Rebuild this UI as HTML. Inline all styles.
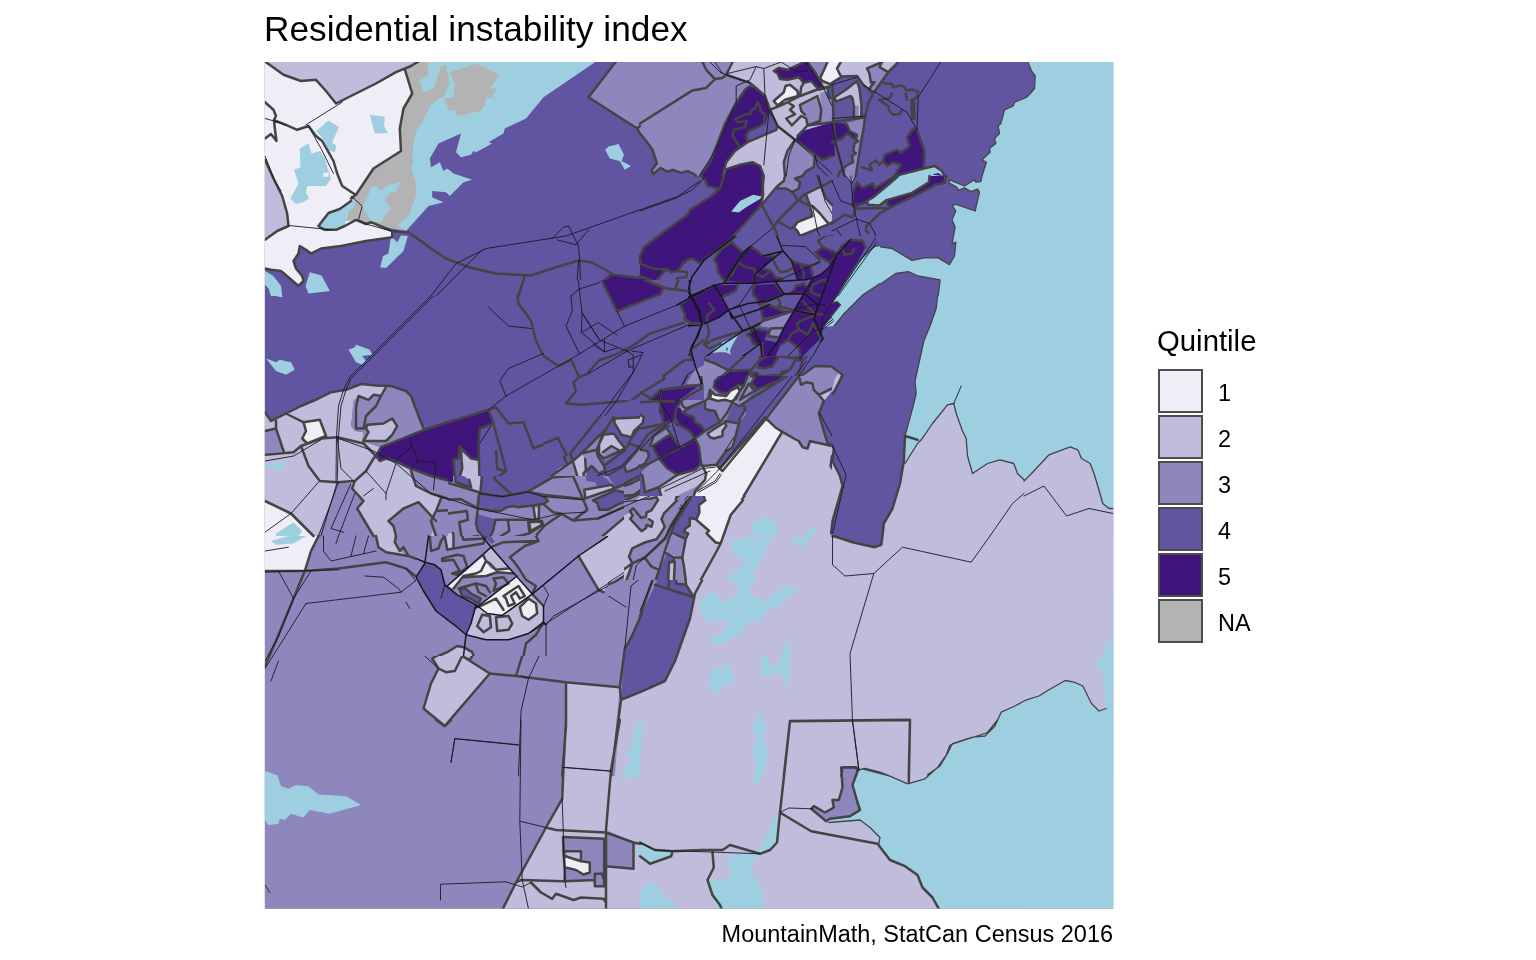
<!DOCTYPE html>
<html><head><meta charset="utf-8"><title>Residential instability index</title>
<style>
html,body{margin:0;padding:0;background:#fff;}
body{width:1536px;height:960px;position:relative;overflow:hidden;font-family:"Liberation Sans",Arial,sans-serif;color:#000;}
#title{position:absolute;left:264px;top:9px;font-size:35.2px;line-height:40px;white-space:nowrap;letter-spacing:0.04px;}
#caption{position:absolute;right:423px;top:921px;font-size:23.47px;line-height:27px;white-space:nowrap;}
#ltitle{position:absolute;left:1157px;top:324px;font-size:29.33px;line-height:34px;white-space:nowrap;}
.k{position:absolute;left:1158px;width:44.75px;height:43.75px;box-sizing:border-box;border:2.5px solid #4d4d4d;}
.kl{position:absolute;left:1218px;font-size:23.47px;line-height:27px;white-space:nowrap;}
#map{position:absolute;left:0;top:0;}
</style></head><body>
<div id="title">Residential instability index</div>
<div id="ltitle">Quintile</div>
<div class="k" style="top:368.75px;background:#efedf5"></div><div class="kl" style="top:380px">1</div>
<div class="k" style="top:414.83px;background:#bfbcdc"></div><div class="kl" style="top:426px">2</div>
<div class="k" style="top:460.91px;background:#8e87be"></div><div class="kl" style="top:472px">3</div>
<div class="k" style="top:506.99px;background:#6155a1"></div><div class="kl" style="top:518px">4</div>
<div class="k" style="top:553.07px;background:#3f157b"></div><div class="kl" style="top:564px">5</div>
<div class="k" style="top:599.15px;background:#b3b3b3"></div><div class="kl" style="top:610px">NA</div>
<div id="caption">MountainMath, StatCan Census 2016</div>
<svg id="map" width="1536" height="960" viewBox="0 0 1536 960">
<defs><clipPath id="c"><rect x="264.9" y="62.0" width="848.3" height="846.6"/></clipPath>
<mask id="ex0" maskUnits="userSpaceOnUse" x="0" y="0" width="1536" height="960"><rect width="1536" height="960" fill="#fff"/><rect x="544" y="416" width="192" height="120" fill="#000"/><rect x="640" y="296" width="192" height="120" fill="#000"/><rect x="640" y="376" width="192" height="120" fill="#000"/><rect x="624" y="500" width="128" height="80" fill="#000"/><rect x="448" y="476" width="176" height="120" fill="#000"/><rect x="688" y="236" width="192" height="120" fill="#000"/><rect x="576" y="280" width="128" height="120" fill="#000"/><rect x="416" y="536" width="192" height="120" fill="#000"/></mask>
<mask id="ex1" maskUnits="userSpaceOnUse" x="0" y="0" width="1536" height="960"><rect width="1536" height="960" fill="#fff"/><rect x="640" y="376" width="192" height="120" fill="#000"/><rect x="624" y="500" width="128" height="80" fill="#000"/><rect x="448" y="476" width="176" height="120" fill="#000"/><rect x="688" y="236" width="192" height="120" fill="#000"/><rect x="576" y="280" width="128" height="120" fill="#000"/><rect x="416" y="536" width="192" height="120" fill="#000"/></mask>
<mask id="ex2" maskUnits="userSpaceOnUse" x="0" y="0" width="1536" height="960"><rect width="1536" height="960" fill="#fff"/><rect x="416" y="536" width="192" height="120" fill="#000"/></mask>
<clipPath id="t0"><rect x="256" y="56" width="384" height="240"/></clipPath>
<clipPath id="t1"><rect x="256" y="296" width="384" height="240"/></clipPath>
<clipPath id="t2"><rect x="256" y="536" width="384" height="240"/></clipPath>
<clipPath id="t3"><rect x="256" y="776" width="384" height="140"/></clipPath>
<clipPath id="t4"><rect x="640" y="56" width="192" height="120"/></clipPath>
<clipPath id="t5"><rect x="832" y="56" width="192" height="120"/></clipPath>
<clipPath id="t6"><rect x="640" y="176" width="192" height="120"/></clipPath>
<clipPath id="t7"><rect x="832" y="176" width="192" height="120"/></clipPath>
<clipPath id="t8"><rect x="640" y="296" width="384" height="240"/></clipPath>
<clipPath id="t9"><rect x="640" y="536" width="384" height="240"/></clipPath>
<clipPath id="t10"><rect x="640" y="776" width="384" height="140"/></clipPath>
<clipPath id="t11"><rect x="1024" y="56" width="96" height="240"/></clipPath>
<clipPath id="t12"><rect x="1024" y="296" width="96" height="240"/></clipPath>
<clipPath id="t13"><rect x="1024" y="536" width="96" height="240"/></clipPath>
<clipPath id="t14"><rect x="1024" y="776" width="96" height="140"/></clipPath>
<clipPath id="t15"><rect x="544" y="416" width="192" height="120"/></clipPath>
<clipPath id="t16"><rect x="640" y="296" width="192" height="120"/></clipPath>
<clipPath id="t17"><rect x="640" y="376" width="192" height="120"/></clipPath>
<clipPath id="t18"><rect x="624" y="500" width="128" height="80"/></clipPath>
<clipPath id="t19"><rect x="448" y="476" width="176" height="120"/></clipPath>
<clipPath id="t20"><rect x="688" y="236" width="192" height="120"/></clipPath>
<clipPath id="t21"><rect x="576" y="280" width="128" height="120"/></clipPath>
<clipPath id="t22"><rect x="880" y="236" width="48" height="120"/></clipPath>
<clipPath id="t23"><rect x="416" y="536" width="192" height="120"/></clipPath>
</defs>
<g clip-path="url(#c)">
<rect x="260" y="58" width="860" height="856" fill="#6155a1"/>
<g clip-path="url(#t0)">
<path fill="#6155a1" d="M256 56L640 56L640 296L256 296Z"/>
<path fill="#efedf5" d="M256 56L421 56L405 69.8L412.2 93.5L403.5 108.5L399.8 128.5L401 151L373.5 168.5L356 194.8L362.2 206L358.5 219.8L366 224L371 222.2L386 228.5L392.2 231L392.2 237.2L366 241L341 246L331 247.2L321 248.5L311 253.5L306 249.8L299.8 246L298.5 253.5L293.5 261L296 268.5L302.2 276L303.5 281L298.5 286L289.8 278.5L281 271L271 269.8L256 268.5Z"/>
<path fill="#bfbcdc" d="M256 56L265 61.5L274.8 68.5L283.5 74.8L301 81L316 79.8L326 91L336 103.5L356 93.5L376 83.5L396 72.2L411 66L418.5 61.5L421 56ZM256 159.8L265 159.8L273.5 178.5L282.2 196L287.2 213.5L288.5 226L277.2 231L265 239.8L256 241Z"/>
<path fill="#b3b3b3" d="M405 67.2L416 61.5L421 56L506 56L501 76L496 93.5L486 106L456 117.2L446 111L441 98.5L431 106L418.5 128.5L412.2 151L411 168.5L417.2 183.5L417.2 196L409.8 216L406 231L391 228.5L371 223.5L366 224L358.5 219.8L346 221L351 198.5L356 194.8L373.5 168.5L401 151L399.8 128.5L403.5 108.5L412.2 93.5Z"/>
<path fill="#9ecfe1" d="M427.2 56L428.5 74.8L419.8 81L423.5 92.2L433.5 88.5L441 66L446 64.8L449.8 83.5L443.5 97.2L441 97.2L431 104.8L421 123.5L416 131L412.2 151L411 168.5L416 183.5L416 196L408.5 216L397.2 224.8L406 231L428.5 206L443.5 202.2L432.2 197.2L432.2 191L446 192.2L449.8 196L463.5 182.2L472.2 179.8L453.5 173.5L447.2 168.5L443.5 171L439.8 162.2L431 167.2L429.8 158.5L438.5 143.5L461 133.5L456 152.2L461 157.2L471 154.8L473.5 151L476 152.2L492.2 143.5L488.5 142.2L503.5 133.5L504.8 128.5L526 118.5L543.5 97.2L596 61.5L601 56Z"/>
<path fill="#b3b3b3" d="M449.8 72.2L476 63.5L499.8 74.8L489.8 88.5L497.2 88.5L492.2 96L496 98.5L486 97.2L484.8 104.8L481 111L457.2 116L454.8 109.8L449.8 111L443.5 98.5L453.5 97.2L454.8 83.5Z"/>
<path fill="#9ecfe1" d="M369.8 187.2L376 186L381 191L388.5 184.8L401 182.2L396 192.2L389.8 192.2L384.8 201L391 208.5L383.5 217.2L382.2 222.2L371 221L362.2 206L368.5 196ZM318.5 223.5L328.5 212.2L341 208.5L351 201L356 198.5L354.8 206L347.2 213.5L344.8 226L336 229.8L324.8 229.8L319.8 227.2ZM316 131L328.5 120.5L339 127.2L332.2 142.2L336.5 146L334.8 152.2L329 150.5L323.5 139.8L320.5 135.5ZM369.8 114.8L384.8 116.8L384 126L387.8 133L374.8 133.5ZM299.8 148.5L308.5 143.5L311.5 153.5L319.8 151L324.8 158.5L328.5 171L331 178.5L326 186L307.2 186L306 192.2L309 198.5L303.5 202.2L296 204L290.5 198.5L298.5 183.5L294 169.8L300.5 167.2Z"/>
<path fill="#efedf5" d="M323 173L328 172.5L329 176.5L323.5 177Z"/>
<path fill="#9ecfe1" d="M391 236L397.2 242.2L401 235.5L407.8 236L403.5 251L386 268L380.2 267.2L383 256L388.5 253.5ZM309.8 272.2L321.5 275.5L329.8 291L308.5 293.5L305.5 286ZM265 271L273.5 276L281 286L282.2 296L271 296L268.5 288.5L265 284.8ZM605.2 149.8L608.5 146.5L618.5 144L624 154.8L621.5 161L631 166L624.8 169.8L619.8 161L609.8 158.5Z"/>
<path fill="#8e87be" d="M616 61.5L588.5 97.2L637.2 128.5L640 133.5L640 56L616 56Z"/>
<path fill="#3f157b" d="M603.5 281L611 274.8L640 278.5L640 296L611 296Z"/>
</g>
<g clip-path="url(#t1)">
<path fill="#6155a1" d="M256 296L640 296L640 536L256 536Z"/>
<path fill="#9ecfe1" d="M266 358.5L276 362.2L279.8 359.8L291 362.2L294.8 369.8L286 374.8L276 371ZM348.5 349.8L354.8 347.2L356 344.8L369.8 349.8L372.2 354.8L362.2 356L366 361L362.2 364.8L356 362.2ZM276 296L283.5 296L281 297.2Z"/>
<path fill="#bfbcdc" d="M256 412.2L265 412.2L271 421L286 413.5L301 406L318.5 398.5L331 392.2L346 389.8L361 384L376 385.5L386 387.2L381 396L373.5 394.8L368.5 399.8L358.5 396L353.5 401L352.2 416L351 426L354.8 431L363.5 432.2L362.2 441L373.5 444.8L381 447.2L376 456L379.8 461L386 458.5L394.8 461L411 468.5L416 486L431 493.5L441 498.5L436 511L431 521L436 536L256 536Z"/>
<path fill="#efedf5" d="M303.5 422.2L319.8 419.8L326 436L307.2 443.5L302.2 438.5L306 431Z"/>
<path fill="#8e87be" d="M256 431L276 428.5L283.5 451L265 453.5L256 454ZM386 387.2L391 386L406 391L411 396L418.5 416L424 429.8L381 447.2L373.5 444.8L362.2 441L363.5 432.2L354.8 431L351 426L352.2 416L353.5 401L358.5 396L368.5 399.8L373.5 394.8L381 396Z"/>
<path fill="#bfbcdc" d="M367.2 424.8L383.5 423.5L392.2 418.5L397.2 426L392.2 434.8L386 441L363.5 441L368.5 432.2L366 428.5Z"/>
<path fill="#3f157b" d="M376 456L381 447.2L424 429.8L488.5 409.8L493.5 423.5L479.8 428.5L478.5 443.5L478.5 459.8L471 458.5L459.8 446L458.5 458.5L453.5 459.8L454.8 482.2L431 476L411 468.5L394.8 461L386 458.5L379.8 461Z"/>
<path fill="#bfbcdc" d="M461 451L469.8 458.5L478.5 461L479.8 491L471 488.5L468.5 481L459.8 476L462.2 468.5Z"/>
<path fill="#efedf5" d="M256 501L265 501L291 513.5L313.5 536L256 536Z"/>
<path fill="#9ecfe1" d="M266 463.5L281 461L286 466L279.8 471L266 468.5ZM276 533.5L293.5 522.2L302.2 531L298.5 536L276 536Z"/>
<path fill="#8e87be" d="M338.5 482.2L351 483.5L354.8 493.5L363.5 501L357.2 508.5L373.5 536L318.5 536L333.5 496ZM388.5 521L403.5 508.5L418.5 502.2L436 521L431 536L396 536L393.5 526ZM394.8 461L411 468.5L431 476L454.8 482.2L471 488.5L479.8 491L478.5 503.5L476 508.5L456 501L431 493.5L416 486L411 471ZM531 492.2L568.5 468.5L586 498.5L588.5 508.5L556 508.5L546 501Z"/>
<path fill="#bfbcdc" d="M568.5 468.5L571 453.5L581 456L583.5 491L611 488.5L616 491L588.5 498.5L586 498.5Z"/>
<path fill="#8e87be" d="M436 511L441 498.5L456 501L476 508.5L476 536L436 536L431 521ZM536 518.5L506 521L496 528.5L491 536L601 536L568.5 521L543.5 511Z"/>
<path fill="#bfbcdc" d="M528.5 521L541 521L531 531Z"/>
<path fill="#8e87be" d="M543.5 511L598.5 516L631 513.5L640 536L601 536L568.5 521Z"/>
<path fill="#3f157b" d="M608.5 296L640 296L640 303.5L616 312.2Z"/>
</g>
<g clip-path="url(#t2)">
<path fill="#8e87be" d="M256 536L640 536L640 776L256 776Z"/>
<path fill="#efedf5" d="M256 536L318.5 536L311 551L304.8 571L265 571L256 571Z"/>
<path fill="#9ecfe1" d="M271 541L288.5 536L306 536L293.5 543.5L276 544.8Z"/>
<path fill="#bfbcdc" d="M376 536L396 536L394.8 542.2L399.8 551L408.5 556L386 552.2L378.5 547.2Z"/>
<path fill="#6155a1" d="M426 562.2L439.8 567.2L443.5 581L453.5 591L476 608.5L471 626L466 634.8L453.5 623.5L436 611L426 593.5L418.5 578.5Z"/>
<path fill="#bfbcdc" d="M448.5 586L491 548.5L531 596L543.5 608.5L543.5 621L531 631L511 638.5L491 639.8L476 636L471 626L476 608.5L453.5 591Z"/>
<path fill="#efedf5" d="M456 583.5L482.2 559.8L487.2 568.5L509.8 573.5L516 586L531 598.5L542.2 608.5L541 618.5L528.5 619.8L516 611L503.5 593.5L491 596L489.8 602.2L478.5 604.8L463.5 594.8Z"/>
<path fill="#6155a1" d="M459.8 588.5L468.5 586L477.2 593.5L478.5 602.2L467.2 598.5ZM493.5 581L504.8 577.2L507.2 586L496 589.8Z"/>
<path fill="#bfbcdc" d="M443.5 536L453.5 536L454.8 548.5L446 549.8Z"/>
<path fill="#6155a1" d="M482.2 536L493.5 536L496 547.2L489.8 546Z"/>
<path fill="#bfbcdc" d="M578.5 556L606 536L640 536L640 558.5L628.5 566L616 581L603.5 586L599.8 589.8ZM432.2 658.5L441 653.5L451 652.2L458.5 644.8L463.5 646L473.5 653.5L469.8 659.8L462.2 656L454.8 671L446 672.2L438.5 668.5ZM462.2 656L489.8 673.5L444.8 726L423.5 708.5L431 683.5L438.5 668.5L446 672.2L454.8 671ZM566 682.2L619.8 687.2L611 776L562.2 776L566 726Z"/>
<path fill="#6155a1" d="M642 613.2L631.2 637.5L624.8 648.5L621 699.8L640 692.2Z"/>
<path fill="#bfbcdc" d="M621 699.8L640 692.2L640 776L614.8 776Z"/>
<path fill="#9ecfe1" d="M640 718.5L633.5 731L631 748.5L626 753.5L631 761L621 771L626 776L640 776ZM256 768.5L265 771L276 774.8L278.5 776L256 776Z"/>
</g>
<g clip-path="url(#t3)">
<path fill="#8e87be" d="M256 776L640 776L640 916L256 916Z"/>
<path fill="#9ecfe1" d="M256 767.5L265 770L277.2 775L281 786.2L288.5 788.8L296 785L308.5 786.2L318.5 794.5L346 796.2L361 805L329.8 813.8L309.8 810L303.5 817.5L291 813.8L284.8 820L279.8 818.8L278.5 823.8L268.5 825L265 820L256 820Z"/>
<path fill="#bfbcdc" d="M566 720L619.8 720L611 770L606 830L606 917.5L498.5 917.5L516 882.5L546 827.5L562.2 798.8L563.5 767.5ZM619.8 720L640 720L640 917.5L606 917.5L606 830L611 770Z"/>
<path fill="#8e87be" d="M563 837L604.2 838.8L604.2 886.2L594.8 886.2L594.8 880L564.8 881.2L564.8 870L563.5 852.5Z"/>
<path fill="#efedf5" d="M565.5 856.2L581 861.2L589.8 862.5L589.8 872.5L583.5 874.5L576 870L565.5 867.5Z"/>
<path fill="#bfbcdc" d="M565.5 851.2L581 851.2L581 858.8L568.5 858.8Z"/>
<path fill="#8e87be" d="M606 830L633.5 842.5L633.5 868.8L606 866.2Z"/>
<path fill="#9ecfe1" d="M640 720L631 727.5L626 745L628.5 755L622.2 772.5L626 778.8L633.5 778.8L640 757.5ZM637.2 845L640 843.8L640 857.5L638 855Z"/>
</g>
<g clip-path="url(#t4)">
<path fill="#8e87be" d="M640 56L832 56L832 176L640 176Z"/>
<path fill="#6155a1" d="M640 133.5L646.2 141L652.5 149.8L656.9 163.5L651.9 169.8L653.1 174.1L660.6 167.9L666.9 171.6L673.1 169.8L681.2 172.9L688.1 171L693.8 174.1L696.2 176L640 176Z"/>
<path fill="#bfbcdc" d="M732.5 56L726.2 74.8L750 82.9L757.5 89.1L765 96L770 109.8L777.5 126L776.2 129.8L747.5 142.2L735 151L726.2 162.2L722.5 176L785 176L783.8 162.2L787.5 151L795 139.8L802.5 131L832 122.2L832 56Z"/>
<path fill="#3f157b" d="M750 86L757.5 89.1L765 96L770 109.8L777.5 126L776.2 129.8L747.5 142.2L735 151L726.2 162.2L722.5 176L700 176L710 162.2L717.5 143.5L725 123.5L735 104.8L745 89.8Z"/>
<path fill="#6155a1" d="M748.8 131L760 126L765 124.8L768.8 112.2L777.5 126L776.2 129.8L747.5 142.2L746.2 136Z"/>
<path fill="#3f157b" d="M726.2 169.1L740 164.8L752.5 162.2L760 166L763.8 176L723.8 176ZM773.8 71L778.8 67.9L787.5 69.8L801.2 63.5L803.8 62L807.5 62L815 72.2L823.8 88.5L818.8 89.8L811.2 81L803.8 82.9L798.8 77.2L787.5 79.8L780 79.1L777.5 73.5Z"/>
<path fill="#8e87be" d="M807.5 62L827.5 62L820 78.5L823.8 88.5L815 72.2Z"/>
<path fill="#efedf5" d="M827.5 62L832 62L832 84.8L822.5 81L820 78.5ZM773.8 101L783.8 92.2L785.6 86L790 84.8L797.5 91L798.1 96L785 99.8L777.5 105.4Z"/>
<path fill="#8e87be" d="M800 104.8L817.5 96L821.2 109.8L820 121L807.5 125.4L805 114.8L801.2 111ZM820 93.5L832 88.5L832 122.2L820.6 124.8L821.2 109.8Z"/>
<path fill="#3f157b" d="M797.5 136L802.5 131L832 122.2L832 156L822.5 159.8L815 154.8L795.6 139.1Z"/>
<path fill="#8e87be" d="M795 139.8L815 154.8L813.8 167.2L806.2 171L802.5 176L785 176L783.8 162.2L787.5 151Z"/>
<path fill="#6155a1" d="M815 154.8L822.5 159.8L832 156L832 176L802.5 176L806.2 171L813.8 167.2ZM827.5 87.2L832 86L832 98.5L828.8 97.2Z"/>
</g>
<g clip-path="url(#t5)">
<path fill="#6155a1" d="M832 56L1024 56L1024 176L832 176Z"/>
<path fill="#efedf5" d="M832 56L840.8 62L837 68.5L840.1 74.8L842 76.6L832 82.9Z"/>
<path fill="#bfbcdc" d="M840.8 56L882 56L882 62L867 68.5L869.5 73.5L870.8 82.2L869.5 88.5L863.2 84.8L857 76L842 76.6L840.1 74.8L837 68.5L840.8 62Z"/>
<path fill="#9ecfe1" d="M845.8 61L857 61L857 62.9L850.8 63.2L845.8 62.9Z"/>
<path fill="#8e87be" d="M867 68.5L882 62L879.5 67.2L888.2 72.2L873.2 93.5L869.5 88.5L874.5 82.2L870.8 82.2L869.5 73.5Z"/>
<path fill="#bfbcdc" d="M882 56L898.2 56L898.2 62L888.2 72.2L879.5 67.2L882 62ZM834.5 97.2L845.8 89.8L857 81L859.5 88.5L861.4 104.8L861.4 117.2L853.9 117.9L853.9 106L852.6 98.5L850.8 96L835.8 101.6Z"/>
<path fill="#8e87be" d="M854.5 105.4L858.9 105.4L858.9 117L854.5 117.5ZM844.5 123.5L865.1 117.9L863.2 131L860.8 143.5L855.8 176L844.5 176L845.8 166L853.2 162.2L852 156L855.8 153.5L853.2 151L854.5 143.5L858.2 141L855.8 139.8L857 134.8L849.5 131L847 124.8Z"/>
<path fill="#3f157b" d="M832 122.2L844.5 123.5L847 124.8L849.5 131L857 134.8L855.8 139.8L847 133.5L842 138.5L834.5 141L832 142.2ZM913.2 128.5L917 129.8L924.5 151L923.9 168.5L899.5 174.8L894.5 176L900.8 164.8L893.2 162.2L887 166L883.2 161L884.5 154.8L897 149.8L900.8 152.9L909.5 146L907 137.2Z"/>
<path fill="#9ecfe1" d="M899.5 174.8L923.9 168.5L934.5 166L942 171L944.5 176L899.5 176Z"/>
<path fill="#3f157b" d="M932 174.8L938.2 172.9L943.2 176Z"/>
<path fill="#9ecfe1" d="M1024 98.5L1014.5 102.2L1013.2 106L1004.5 109.8L1000.8 123.5L998.2 126L999.5 133.5L994.5 138.5L995.8 143.5L989.5 148.5L990.1 152.2L982 159.8L986.4 162.2L982 176L1024 176Z"/>
<path fill="#3f157b" d="M832 122.2L833.9 123.5L834.8 156L832 157.2Z"/>
</g>
<g clip-path="url(#t6)">
<path fill="#6155a1" d="M640 176L832 176L832 296L640 296Z"/>
<path fill="#3f157b" d="M701.2 176L705 179.8L707.5 186L715 187.9L720 188.5L710 197.2L690 209.8L687.5 214.8L665 231L643.8 247.2L640 256L640 263.5L655 269.1L666.2 269.1L671.2 272.2L677.5 271L690 258.5L700 267.2L710 254.8L730 239.8L740 228.5L761.2 204.8L763.1 194.8L762.5 176ZM640 263.5L647.5 266.6L655 269.1L666.2 269.1L656.2 281L640 276ZM640 277.2L656.2 282.2L663.1 288.5L661.2 296L640 296ZM713.8 257.2L722.5 247.2L731.9 241L743.8 252.2L750 246L752.5 249.8L758.8 247.2L760 249.8L756.2 251L756.2 254.8L763.8 256L780 254.8L772.5 261L755 274.8L754.4 282.9L723.8 282.2L716.2 271L716.9 262.2ZM715 284.8L723.8 282.2L754.4 282.9L777.5 282.2L783.8 293.5L781.2 296L720 296ZM788.8 258.5L802.5 263.5L811.2 267.2L813.8 278.5L801.2 279.8L777.5 282.2L781.2 277.2L775 271L779.4 268.5L783.8 263.5ZM815 251L821.2 246L832 251L832 296L807.5 296L812.5 288.5L813.8 278.5L820 262.2L812.5 253.5ZM755 274.8L760 271L765 276L771.2 269.8L777.5 276L781.2 277.2L777.5 282.2L754.4 282.9Z"/>
<path fill="#bfbcdc" d="M763.8 176L785 176L783.8 181L777.5 186L770 194.8L763.1 203.5L761.9 194.8Z"/>
<path fill="#8e87be" d="M785 176L802.5 176L795 178.5L800 182.2L798.8 188.5L792.5 192.2L786.2 188.5L777.5 188.5L783.8 181Z"/>
<path fill="#bfbcdc" d="M806.2 194.8L821.2 187.2L826.2 198.5L832 204.8L832 222.2L827.5 223.5L812.5 206L810 202.2Z"/>
<path fill="#efedf5" d="M793.8 227.2L797.5 222.2L812.5 216L810 206L812.5 206L820 213.5L828.8 224.1L800 236L797.5 231Z"/>
<path fill="#9ecfe1" d="M731.2 211.6L740 201L753.1 194.8L761.9 196.6L760 199.1L746.2 207.2L738.8 212.5Z"/>
</g>
<g clip-path="url(#t7)">
<path fill="#6155a1" d="M832 176L1024 176L1024 296L832 296Z"/>
<path fill="#9ecfe1" d="M982 176L980.8 181.6L975.8 182.2L974.5 179.8L964.5 186L949.5 179.8L948.9 182.9L957 187.2L958.2 190.4L964.5 187.9L970.8 191.6L977.6 189.1L979.5 192.2L975.1 211L955.1 204.1L952.6 206L955.8 211L952 219.8L955.1 227.2L952.6 241L952 244.1L955.8 242.2L954.5 256L949.5 264.8L938.2 257.9L924.5 257.9L912 260.4L892 248.5L875.8 246L864.5 251L855.8 262.2L844.5 279.8L836 296L863.2 296L895.8 273.5L908.2 271.6L918.2 276L940.1 279.8L938.2 296L1024 296L1024 176ZM898.2 176L929.5 176L928.9 182.2L912 192.9L885.8 200.4L879.5 205.4L868.2 204.8L867 201L873.2 197.2L888.2 184.8Z"/>
<path fill="#3f157b" d="M885.8 200.4L912 192.9L928.9 182.2L929.5 176L944.5 176L943.2 182.2L935.8 183.5L924.5 189.8L912 196L889.5 207.2ZM852.6 204.8L853.2 192.2L857 182.2L862 187.9L873.2 183.5L874.5 188.5L894.5 176L898.2 176L888.2 184.8L873.2 197.2L867 201L865.1 202.9L854.5 207.9Z"/>
<path fill="#8e87be" d="M845.8 176L855.8 176L852 183.5Z"/>
<path fill="#3f157b" d="M832 251L839.5 246L850.8 239.8L860.8 241L865.8 251L855.8 262.2L844.5 279.8L836 296L832 296Z"/>
</g>
<g clip-path="url(#t8)">
<path fill="#6155a1" d="M640 296L1024 296L1024 536L640 536Z"/>
<path fill="#9ecfe1" d="M937.5 296L936.2 308.5L930 326L923.8 341L920 358.5L915 381L916.2 393.5L912.5 408.5L905 436L905 463.5L917.5 443.5L921.2 439.8L932.5 423.5L947.5 404.8L953.8 403.5L956.2 413.5L962.5 431L966.2 438.5L967.5 456L972.5 473.5L987.5 463.5L1000 459.8L1013.8 463.5L1017.5 473.5L1024 479.8L1024 296Z"/>
<path fill="#bfbcdc" d="M905 463.5L917.5 443.5L921.2 439.8L932.5 423.5L947.5 404.8L953.8 403.5L956.2 413.5L962.5 431L966.2 438.5L967.5 456L972.5 473.5L987.5 463.5L1000 459.8L1013.8 463.5L1017.5 473.5L1024 479.8L1024 536L882.5 536L883.8 523.5L892.5 508.5L900 483.5L903.8 461Z"/>
<path fill="#9ecfe1" d="M836 296L831.5 303L832.8 305L837 302L840.2 305L831.5 315.5L824 325L825.2 327.5L835.2 326.2L846.5 313L863 296Z"/>
<path fill="#3f157b" d="M825 296L836 296L831.5 303L832.8 305L837 302L840.2 305L831.5 315.5L827.5 321Z"/>
<path fill="#8e87be" d="M800 378.5L805 371L815 367.2L832.5 367.2L840 371L841.2 376L832.5 393.5L825 402.2L818.8 413.5L820 421L827.5 439.8L815 441L810 439.8L805 448.5L797.5 441L790 432.2L781.2 431L767.5 418.5Z"/>
<path fill="#bfbcdc" d="M840 371L841.2 376L826.2 401L818.8 394.8L832.5 388.5L835 378.5Z"/>
<path fill="#efedf5" d="M767.5 418.5L781.2 431L782.5 436L735 511L726.2 536L710 536L708.8 531L700 521L690 518.5L698.8 516L700 508.5L706.2 498.5L703.8 493.5L693.8 491L722.5 468.5Z"/>
<path fill="#bfbcdc" d="M782.5 434.8L790 432.2L797.5 441L805 448.5L810 439.8L815 441L827.5 439.8L833.8 448.5L832.5 461L840 476L842.5 486L837.5 503.5L832.5 521L832.5 536L726.2 536L735 511Z"/>
<path fill="#9ecfe1" d="M750 526L763.8 514.8L767.5 518.5L776.2 519.8L777.5 536L750 536ZM802.5 536L812.5 527.2L817.5 528.5L812.5 536Z"/>
</g>
<g clip-path="url(#t9)">
<path fill="#bfbcdc" d="M640 536L1024 536L1024 776L640 776Z"/>
<path fill="#8e87be" d="M640 536L687.5 536L686.2 546L667.5 553.5L655 584.8L640 616Z"/>
<path fill="#6155a1" d="M667.5 553.5L686.2 546L685 561L686.2 584.8L693.8 597.2L690 618.5L675 661L665 681L640 692.2L640 616L655 584.8Z"/>
<path fill="#8e87be" d="M675 562.2L682.5 561L686.2 584.8L676.2 583.5Z"/>
<path fill="#efedf5" d="M708.8 536L725 536L720 543.5L712.5 541Z"/>
<path fill="#6155a1" d="M832.5 536L882.5 536L881.2 544.8L875 547.2L852.5 542.2L837.5 537.2Z"/>
<path fill="#9ecfe1" d="M730 543.5L772.5 536L765 551L760 563.5L752.5 573.5L756.2 582.2L747.5 588.5L750 594.8L765 601L787.5 584.8L797.5 589.8L790 596L777.5 606L765 611L760 623.5L752.5 618.5L740 633.5L722.5 643.5L715 646L710 638.5L725 631L727.5 618.5L715 622.2L702.5 618.5L698.8 601L715 591L720 601L732.5 598.5L740 586L727.5 578.5L735 568.5L740 553.5L735 548.5ZM792.5 538.5L812.5 536L802.5 547.2L795 544.8ZM712.5 666L720 671L728.8 661L735 681L722.5 686L715 696L708.8 684.8ZM761.2 656L767.5 654.8L768.8 666L780 663.5L783.8 646L790 637.2L790 671L785 692.2L781.2 672.2L761.2 677.2ZM757.5 711L767.5 727.2L762.5 736L768.8 756L762.5 771L763.8 776L755 776L756.2 761L752.5 751L757.5 741L752.5 731ZM640 721L642.5 722.2L641.2 746L640 746ZM1024 701L1015 706L1001.2 712.2L995 726L985 736L972.5 737.2L952.5 743.5L947.5 753.5L940 766L927.5 774.8L905 776L1024 776ZM855 776L858.8 769.8L865 768.5L880 772.2L890 776Z"/>
<path fill="#8e87be" d="M841.2 776L842.5 767.2L856.2 767.2L858.8 769.8L855 776Z"/>
</g>
<g clip-path="url(#t10)">
<path fill="#bfbcdc" d="M640 776L1024 776L1024 916L640 916Z"/>
<path fill="#9ecfe1" d="M997.5 720L987.5 732.5L972.5 737.5L950 745L946.2 755L937.5 767.5L925 778.8L907.5 783.8L890 776.2L862.5 768.8L857.5 771.2L852.5 785L857.5 802.5L860 810L850 816.2L830 818.8L828.8 822.5L860 820L870 827.5L880 837.5L878.8 843.8L890 860L905 866.2L917.5 875L922.5 887.5L932.5 897.5L938.8 908.8L938.8 917.5L1024 917.5L1024 720Z"/>
<path fill="#8e87be" d="M841.2 767.5L856.2 767.5L857.5 771.2L852.5 785L857.5 802.5L860 810L850 816.2L830 818.8L826.2 821.2L811.2 808.8L813.8 806.2L825 812.5L833.8 807.5L832.5 800L838.8 800L842.5 787.5Z"/>
<path fill="#9ecfe1" d="M752.5 727.5L760 720L767.5 727.5L762.5 740L768.8 755L762.5 770L757.5 785L752.5 780L756.2 765L752.5 752.5L757.5 742.5ZM777.5 812.5L777 842.5L770 850L760 853.8L750 866.2L755 880L762.5 890L763.8 917.5L720 917.5L710 890L707.5 880L722.5 880L731.2 876.2L727.5 862.5L732.5 853.8L758.8 852.5L765 837.5ZM640 845L655 850L672.5 851.2L671.2 856.2L650 863.8L640 856.2ZM640 892.5L645 883.8L655 882.5L665 896.2L680 908.8L690 917.5L640 917.5Z"/>
</g>
<g clip-path="url(#t11)">
<path fill="#9ecfe1" d="M1024 56L1120 56L1120 296L1024 296Z"/>
<path fill="#6155a1" d="M1024 56L1027.8 62.2L1031.5 71L1035.2 76L1034.5 88.5L1030.2 93.5L1026.5 97.2L1024 98.5L1021.5 98.5L1021.5 56Z"/>
</g>
<g clip-path="url(#t12)">
<path fill="#9ecfe1" d="M1024 296L1120 296L1120 536L1024 536Z"/>
<path fill="#bfbcdc" d="M1024 481L1031.5 473.5L1049 454.8L1070.2 446.8L1077.8 449.8L1081.5 458.5L1090.2 463.5L1094 473.5L1097.8 486L1102.8 503.5L1109 508.5L1113.2 508.5L1124 508.5L1124 536L1024 536Z"/>
</g>
<g clip-path="url(#t13)">
<path fill="#bfbcdc" d="M1024 536L1120 536L1120 776L1024 776Z"/>
<path fill="#9ecfe1" d="M1113.2 593.5L1110.2 596L1112.8 601L1110.2 608.5L1113.2 616L1112 628.5L1113.2 631L1109 643.5L1100.2 649.8L1106.5 651L1097.8 661L1094 667.2L1101.5 668.5L1104 686L1106 708.5L1099 711L1091.5 703.5L1082.8 686L1074 682.2L1065.2 680.5L1056.5 685.5L1049 689.8L1039 696L1026.5 699.8L1024 701L1024 776L1124 776L1124 593.5Z"/>
</g>
<g clip-path="url(#t14)">
<path fill="#9ecfe1" d="M1024 776L1120 776L1120 916L1024 916Z"/>
</g>
<g clip-path="url(#t15)">
<path fill="#8e87be" d="M544 416L736 416L736 536L544 536Z"/>
<path fill="#6155a1" d="M544 416L600.2 416L570.2 453.5L572.8 461L544 481ZM600.2 416L614 416L606.5 428.5L581.5 453.5L572.8 461L570.2 453.5Z"/>
<path fill="#bfbcdc" d="M573.4 461.6L581.5 453.5L585.2 459.1L585.9 471L583.4 473.5L585.2 482.2L595.2 484.8L606.5 477.2L614 488.5L584 499.1Z"/>
<path fill="#6155a1" d="M586.5 471L591.5 466L599 473.5L604 471L605.2 476L596.5 481L586.5 479.8ZM614 416L650.2 416L634 431L629 443.5L624 451L604 466L597.8 456L596.5 449.8L606.5 428.5Z"/>
<path fill="#bfbcdc" d="M615.2 418.5L642.8 417.2L644 422.2L631.5 437.2L621.5 434.8L617.8 428.5L614 422.2ZM602.8 434.8L614 433.5L619 441L625.2 448.5L604 458.5L599 453.5L599 443.5Z"/>
<path fill="#8e87be" d="M602.8 452.2L611.5 446L620.2 451L605.2 461Z"/>
<path fill="#6155a1" d="M604 466L624 451L629 443.5L640.2 447.2L624 466L606.5 476ZM606.5 476L624 466L626.5 472.2L636.5 468.5L646.5 459.8L650.2 453.5L656.5 458.5L641.5 474.8L614 488.5ZM614 488.5L641.5 474.8L645.2 491L624 501L609 506L599 511L594 501L596.5 497.2Z"/>
<path fill="#8e87be" d="M619 487.2L631.5 483.5L641.5 478.5L642.8 488.5L634 494.8L624 496Z"/>
<path fill="#3f157b" d="M652.8 446L669 436L680.2 447.2L696.5 439.8L700.2 453.5L702.8 466L676.5 474.8L656.5 458.5L655.2 451ZM661.5 416L697.8 416L702.8 432.2L695.2 439.1L680.2 428.5L675.2 421L664 424.8Z"/>
<path fill="#6155a1" d="M650.2 416L661.5 416L664 424.8L652.8 432.2L647.8 437.2L640.2 447.2L629 443.5L634 431ZM664 424.8L675.2 421L680.2 428.5L695.2 439.1L680.2 447.2L669 436L652.8 446L640.2 447.2L647.8 437.2L652.8 432.2ZM697.8 416L736 416L736 418.5L716.5 428.5L702.8 432.2Z"/>
<path fill="#bfbcdc" d="M707.8 434.8L721.5 426L725.2 428.5L719 437.2L711.5 439.8Z"/>
<path fill="#6155a1" d="M736 447.2L736 457.2L722.8 472.2L719 466Z"/>
<path fill="#efedf5" d="M736 457.2L736 536L706.5 536L694 519.8L705.2 501L702.8 492.2L694 491L706.5 474.8L719 471L722.8 472.2Z"/>
<path fill="#bfbcdc" d="M645.2 491L676.5 474.8L702.8 466L706.5 474.8L694 491L681.5 493.5L676.5 497.2L674 506L661.5 514.8L664 536L601.5 536Z"/>
<path fill="#8e87be" d="M639 501L656.5 497.2L659 502.2L649 512.2L651.5 526L639 528.5L631.5 516L629 511ZM681.5 493.5L694 491L681.5 511L669 536L664 536L661.5 514.8L674 506L676.5 497.2Z"/>
<path fill="#6155a1" d="M694 492.2L702.8 492.2L705.2 501L699 506L697.8 516L689 517.2L685.2 528.5L687.8 536L671.5 536L681.5 513.5Z"/>
<path fill="#bfbcdc" d="M694 519.8L706.5 536L687.8 536L685.2 528.5L689 517.2Z"/>
<path fill="#9ecfe1" d="M557.1 469.8L562.1 466.6L562.8 467.9L557.8 471Z"/>
<path fill="#bfbcdc" d="M736 508.5L725.2 536L736 536Z"/>
</g>
<g clip-path="url(#t16)">
<path fill="#6155a1" d="M640 296L832 296L832 416L640 416Z"/>
<path fill="#3f157b" d="M680 305.4L691.2 297.2L696.2 301L700 309.8L701.9 322.2L695 324.1L688.8 322.9L683.8 317.2L683.1 312.2ZM695 296L720 296L722.5 303.5L730 309.8L720 317.2L710 322.2L702.5 322.9L700 309.8L696.2 301ZM756.2 296L780 296L781.2 301L771.2 303.5L760 305.4L757.5 301ZM761.2 307.9L776.2 307.2L780 312.2L765 317.2L762.5 313.5Z"/>
<path fill="#8e87be" d="M765 321L780 314.8L793.8 311L785 327.2L777.5 337.2L767.5 336L770 328.5L765 323.5Z"/>
<path fill="#3f157b" d="M747.5 334.8L753.8 329.1L768.8 329.1L765 336L760 342.2L752.5 342.9L750 337.2ZM760 342.2L765 337.2L777.5 338.5L778.8 343.5L770 354.8L760 359.8L758.8 349.8ZM793.8 311L802.5 306L806.2 296L832 296L832 303.5L823.8 327.2L820 338.5L803.8 354.8L801.2 361L797.5 359.8L787.5 344.8L780 342.2L778.8 338.5L785 327.2Z"/>
<path fill="#6155a1" d="M780 342.2L787.5 337.2L800 351L797.5 359.8L787.5 344.8Z"/>
<path fill="#3f157b" d="M758.8 362.2L770 354.8L778.8 356L772.5 366L765 368.5L757.5 367.2ZM751.2 373.5L756.2 372.2L760 376L781.2 374.8L777.5 381L757.5 389.1L751.2 383.5L755 377.2ZM713.8 382.2L728.8 371L750 369.8L743.8 386L738.8 384.8L732.5 388.5L727.5 393.5L720 392.2L715 388.5Z"/>
<path fill="#8e87be" d="M695 368.5L705 359.8L715 363.5L727.5 369.8L713.8 382.2L701.2 383.5L687.5 383.5L692.5 376Z"/>
<path fill="#3f157b" d="M651.2 399.8L661.2 389.8L700 384.1L701.9 387.9L681.2 399.8L675.6 408.5L676.2 416L658.8 416L660 403.5ZM640 402.2L651.2 399.8L660 403.5L658.8 416L640 416Z"/>
<path fill="#8e87be" d="M701.9 387.9L710 389.1L708.1 397.2L700 399.8L685 407.9L681.2 404.8L681.2 399.8Z"/>
<path fill="#efedf5" d="M711.9 391.6L715 394.8L726.2 396L730 391L737.5 387.2L740 391L736.2 398.5L731.2 401.6L725 399.8L717.5 401L710 398.5Z"/>
<path fill="#8e87be" d="M708.1 397.2L710 398.5L717.5 401L725 399.8L731.2 401.6L727.5 412.2L725 416L705 416L706.2 408.5L705 402.2ZM740 398.5L748.8 383.5L752.5 388.5L755 389.8L740 399.8ZM797.5 378.5L815 366L832 366.6L832 416L772.5 416Z"/>
<path fill="#bfbcdc" d="M820 394.8L832 388.5L832 396L825 402.2Z"/>
<path fill="#9ecfe1" d="M711.2 352.9L720 343.5L737.5 336L732.5 346L730 351L731.9 355.4L727.5 353.5L721.2 351ZM832 314.8L824 325L825.2 327.5L832 326.6Z"/>
<path fill="#3f157b" d="M640 296L658.8 296L640 299.8Z"/>
</g>
<g clip-path="url(#t17)">
<path fill="#8e87be" d="M640 376L832 376L832 496L640 496Z"/>
<path fill="#6155a1" d="M640 376L687.5 376L682.5 378.5L681.2 385.4L661.2 389.8L651.2 398.5L660 400.4L658.8 411L663.8 424.1L647.5 434.8L640 446Z"/>
<path fill="#bfbcdc" d="M640 414.8L643.8 417.2L642.5 423.5L640 424.8Z"/>
<path fill="#6155a1" d="M640 446L647.5 434.8L663.8 424.1L668.8 426L653.8 436L650 446L655 451L658.8 458.5L652.5 462.2L645 468.5L640 473.5Z"/>
<path fill="#8e87be" d="M640 449.8L647.5 451L648.8 456L645 463.5L640 466Z"/>
<path fill="#3f157b" d="M651.2 398.5L661.2 389.8L700 384.8L701.2 388.5L690 394.8L681.2 401L676.2 408.5L675 418.5L672.5 419.8L663.8 424.1L658.8 411L660 400.4ZM676.2 408.5L680 407.2L682.5 412.2L687.5 414.8L693.8 417.2L695 422.2L700 424.8L705 431L695 438.5L690 431L678.8 424.8L675.6 417.2Z"/>
<path fill="#6155a1" d="M663.8 424.1L672.5 419.8L675.6 418.5L678.8 424.8L690 431L695 438.5L680 447.9L671.2 434.8Z"/>
<path fill="#3f157b" d="M652.5 446L667.5 436L671.2 434.8L680 447.9L695 438.5L698.8 446L701.2 463.5L695 469.8L677.5 474.8L667.5 468.5L658.8 458.5L655 451Z"/>
<path fill="#6155a1" d="M682.5 412.2L692.5 406L702.5 401L705 408.5L707.5 409.8L715 411L717.5 417.2L720 422.2L710 428.5L705 431L700 424.8L695 422.2L693.8 417.2L687.5 414.8Z"/>
<path fill="#efedf5" d="M711.9 391.6L715 394.8L726.2 396L730 391L737.5 387.2L740 391L736.2 398.5L731.2 401.6L725 399.8L717.5 401L710 398.5Z"/>
<path fill="#3f157b" d="M713.8 387.2L715 381L720 376L747.5 376L743.8 386L738.8 384.8L732.5 388.5L727.5 393.5L720 392.2L715 388.5ZM751.2 376L783.8 376L777.5 381L757.5 389.1L751.2 383.5L755 377.2Z"/>
<path fill="#6155a1" d="M726.2 419.8L732.5 404.8L738.8 406L743.8 404.8L745 409.8L740 418.5L738.8 423.5L727.5 422.2ZM741.2 404.8L757.5 389.1L777.5 381L787.5 376L798.8 376L765 417.2L722.5 471L716.2 464.8L726.2 451L732.5 447.2L735 438.5L738.8 423.5L746.2 413.5Z"/>
<path fill="#bfbcdc" d="M707.5 433.5L715 428.5L725 422.2L726.2 426L722.5 431L722.5 436L713.8 438.5L710 437.2Z"/>
<path fill="#efedf5" d="M720 468.5L766.2 418.5L781.2 433.5L743.8 496L693.8 496L695 491L705 479.8L706.2 473.5L702.5 466L716.2 464.8Z"/>
<path fill="#bfbcdc" d="M820 394.8L832 388.5L832 396L825 402.2Z"/>
<path fill="#6155a1" d="M823.8 401L832 391L832 446L827.5 443.5L823.8 431L818.8 413.5Z"/>
<path fill="#bfbcdc" d="M781.2 433.5L793.8 438.5L798.8 441L802.5 447.2L807.5 448.5L810 441L815 442.2L832 446L832 496L743.8 496ZM658.8 487.2L677.5 476L695 471L702.5 468.5L706.2 473.5L705 479.8L695 487.2L681.2 493.5L677.5 496L661.2 496Z"/>
<path fill="#6155a1" d="M640 492.2L645 492.2L658.8 487.2L661.2 496L640 496ZM640 473.5L642.5 476L645 492.2L640 492.2Z"/>
</g>
<g clip-path="url(#t18)">
<path fill="#bfbcdc" d="M624 500L752 500L752 580L624 580Z"/>
<path fill="#8e87be" d="M624 500L658.2 500L654.8 505L650.7 510.8L646.5 512.5L646.1 517.1L649 519.2L652.8 521.7L651.5 526.7L646.5 525L646.1 527.9L641.5 531.2L630.2 518.8L632.8 515.4L630.7 511.7L624 515.8ZM675.7 500L690.7 500L674 525L669 538.3L664 551.7L657.3 569.2L654.8 580L626.5 580L629 573.3L632.3 563.3L629 556.7L632.3 548.3L644.8 542.5L656.5 539.2L660.7 533.3L664.8 526.7L661.5 519.2L664 513.3L670.7 506.7Z"/>
<path fill="#6155a1" d="M690.7 500L705.7 500L699 505L699.4 512.5L696.5 519.2L689.8 517.9L689.8 525.8L685.7 528.3L684 531.7L688.2 533.3L685.7 539.2L674 533.3L669 538.3L674 525Z"/>
<path fill="#8e87be" d="M674 533.3L685.7 539.2L682.3 557.5L666.5 553.3L669.4 538.3Z"/>
<path fill="#6155a1" d="M666.5 553.3L674 557.5L673.2 561.7L669 562.5L668.2 580L655.7 580L660.7 566.7Z"/>
<path fill="#8e87be" d="M674 557.5L682.3 557.5L684 566.7L685.7 580L674 580L674.8 561.7Z"/>
<path fill="#efedf5" d="M705.7 500L743.2 500L730.7 515L720.7 543.3L715.7 542.5L710.7 537.5L706.5 533.3L709 530.8L696.5 520L699.4 512.5L699 505Z"/>
<path fill="#9ecfe1" d="M729.8 542.5L740.7 540L752 533.3L752 580L727.3 580L728.2 575L736.5 573.3L744 558.3L736.5 557.5L731.5 546.7Z"/>
<path fill="#bfbcdc" d="M738.2 565L740.7 563.3L742.3 565.8L739.8 567.5ZM746.5 563.3L749 561.7L748.2 566.7L746.1 567.5Z"/>
</g>
<g clip-path="url(#t19)">
<path fill="#8e87be" d="M448 476L624 476L624 596L448 596Z"/>
<path fill="#3f157b" d="M448 476L453 476L453 482.2L448 481.6Z"/>
<path fill="#6155a1" d="M455.5 476L463 476L469.2 479.8L471.1 487.2L455.5 482.2Z"/>
<path fill="#bfbcdc" d="M464.2 476L481.8 476L480.5 492.2L471.8 487.9L469.9 479.8Z"/>
<path fill="#6155a1" d="M481.8 476L573 476L553 477.2L528 491.6L543 494.8L548 501L544.2 503.5L533 505.4L518 507.2L513 506L506.8 507.2L500.5 511L489.2 510.4L479.2 506L475.5 507.9L478 494.8L480.5 492.2ZM476.8 514.1L494.2 519.1L495.5 519.8L492.4 531L490.5 536L494.9 541L491.8 546L478 531L476.1 523.5Z"/>
<path fill="#bfbcdc" d="M529.2 522.2L540.5 521.6L541.8 524.8L530.5 531ZM533.6 508.5L538 507.9L538.6 518.5L535.5 519.1Z"/>
<path fill="#6155a1" d="M585.5 476L601.8 476L608 479.8L611.8 484.8L596.8 486L595.5 482.2L586.8 481Z"/>
<path fill="#bfbcdc" d="M584.2 489.8L611.8 484.8L614.2 488.5L585.5 498.5L583 491Z"/>
<path fill="#6155a1" d="M593 500.4L615.5 490.4L623 492.2L640 486L640 494.8L633 498.5L616.8 504.8L608 509.8L599.2 509.8L597.4 502.9ZM608 476L640 476L640 481L615.5 487.2Z"/>
<path fill="#bfbcdc" d="M579.2 556L629.2 513.5L640 519.8L640 546L631.8 549.8L629.2 556L633 563.5L628 573.5L614.2 582.2L604.2 586L603 591L598 588.5Z"/>
<path fill="#efedf5" d="M448 584.8L483.6 557.9L489.2 562.2L496.8 569.1L506.8 566L533 593.5L530.5 596L448 596Z"/>
<path fill="#bfbcdc" d="M484.2 557.2L490.5 547.9L506.8 566L496.8 569.1L489.2 562.2Z"/>
<path fill="#8e87be" d="M458 588.5L473 582.2L479.2 596L455.5 596ZM491.8 579.8L506.8 578.5L510.5 586L495.5 588.5Z"/>
<path fill="#6155a1" d="M459.2 589.8L469.2 588.5L473 596L460.5 596Z"/>
<path fill="#bfbcdc" d="M448 533.5L453 532.9L455.5 548.5L448 549.8Z"/>
</g>
<g clip-path="url(#t20)">
<path fill="#6155a1" d="M688 236L880 236L880 356L688 356Z"/>
<path fill="#3f157b" d="M688 236L735.5 236L729.2 241L719.2 248.5L706.8 257.2L700.5 263.5L691.8 258.5L688 259.8ZM714.2 259.1L721.8 248.5L731.8 242.2L743 252.9L725.5 281L718 272.2L717.4 265.4ZM743 252.9L750.5 246.6L756.1 249.8L763 256L775.5 256.6L763 268.5L770.5 270.4L775.5 277.2L783 279.1L775.5 281.6L754.2 283.2L725.5 281ZM690.5 297.2L714.2 285.4L738 284.8L735.5 291L721.8 297.2L729.2 309.8L719.2 317.2L708 322.2L701.8 324.8L688 326L688 298.5ZM753 288.5L755.5 284.8L775.5 284.1L784.2 294.1L768 301L759.2 304.8L756.1 297.2L753 294.8ZM760.5 307.9L769.2 304.8L783 311L794.2 310.4L763 318.5ZM791.8 260.4L810.5 266L813.6 277.9L798 280.4ZM813 277.9L820.5 274.8L829.2 267.2L836.8 254.8L830.5 262.9L819.2 256.6L815.5 252.2L823 247.2L838 253.5L841.8 246L850.5 239.8L863 241L865.5 247.2L856.8 263.5L831.8 303.5L836.8 301.6L840.5 304.8L825.5 323.5L823 328.5L820.5 338.5L803 356L768 356L775.5 348.5L778 341L784.2 327.2L794.2 310.4Z"/>
<path fill="#6155a1" d="M780.5 344.8L788 339.8L799.2 348.5L800.5 356L775.5 356Z"/>
<path fill="#3f157b" d="M796.8 285.4L805.5 284.1L806.8 292.2L788 293.5L794.2 289.8ZM746.8 334.8L755.5 328.5L768 331L763 343.5L758 344.8L753 343.5L750.5 337.2ZM761.8 344.8L763 339.8L775.5 342.2L780.5 344.8L775.5 348.5L768 356L763 356Z"/>
<path fill="#8e87be" d="M759.9 323.5L763 321L793 311L784.2 327.2L770.5 327.9L760.5 326ZM770.5 328.5L783 327.9L777.4 337.2L768 336Z"/>
<path fill="#9ecfe1" d="M710.5 352.9L720.5 343.5L738 335.4L731.8 346L729.9 351L731.1 354.8L725.5 352.2L719.2 352.2Z"/>
<path fill="#6155a1" d="M726.1 347.9L728 347.2L727.8 350.4L726.2 350.8Z"/>
<path fill="#9ecfe1" d="M880 245.4L875.5 246L868 252.2L858 262.2L844.2 283.5L831.8 303.5L836.8 301.6L840.5 304.8L825.5 323.5L824.2 327.2L834.2 326L844.2 313.5L863 294.8L880 283.5Z"/>
</g>
<g clip-path="url(#t21)">
<path fill="#6155a1" d="M576 280L704 280L704 400L576 400Z"/>
<path fill="#3f157b" d="M601.4 280L644.5 280L653.2 283.8L663.2 287.5L660.8 293.8L617 311.2L610.8 298.8ZM680.8 305L690.8 298.8L704 292.5L704 323.8L692 323.1L684.5 318.8L685.1 315ZM649.5 400L660.8 390L682 387.5L699.5 385L689.5 392.5L679.5 400Z"/>
<path fill="#8e87be" d="M687 382.5L694.5 370L704 365L704 383.8L699.5 385L687 383.8Z"/>
</g>
<g clip-path="url(#t23)">
<path fill="#8e87be" d="M416 536L608 536L608 656L416 656Z"/>
<path fill="#6155a1" d="M416 577.2L424.8 563.5L434.8 564.8L441 569.8L444.8 584.8L457.2 594.8L476 604.8L471 623.5L466 634.8L457.2 627.2L436 611L423.5 591Z"/>
<path fill="#bfbcdc" d="M444.8 536L453.5 536L453.5 548.5L447.2 549.8ZM476 607.9L487.2 613.5L502.2 615.4L532.2 594.1L543.5 606L543.5 622.2L528.5 633.5L508.5 639.8L486 639.8L466 634.8L471 623.5Z"/>
<path fill="#efedf5" d="M476 607.9L517.2 576L532.2 594.1L502.2 615.4L487.2 613.5ZM448.5 586L483.5 556L486 561L481 571L476 573.5L463.5 576L453.5 588.5Z"/>
<path fill="#bfbcdc" d="M484.8 554.8L491 547.9L508.5 568.5L496 569.8L489.8 563.5L486 561Z"/>
<path fill="#efedf5" d="M481 571L486 562.2L491 568.5L496 570.4L508.5 569.1L513.5 573.5L497.2 572.2L486 576L463.5 577.2L466 574.8L478.5 573.5Z"/>
<path fill="#6155a1" d="M459.8 589.8L464.8 587.9L471 593.5L481 598.5L478.5 603.5L469.8 598.5L462.2 596Z"/>
<path fill="#efedf5" d="M519.8 607.2L528.5 598.5L536 603.5L537.2 613.5L528.5 619.8L522.2 616Z"/>
<path fill="#bfbcdc" d="M578.5 556L608 536L608 583.5L603.5 592.2L598.5 589.8ZM438.5 656L447.2 652.2L457.2 646L463.5 647.2L472.2 652.2L473.5 656Z"/>
<path fill="#6155a1" d="M483.5 536L491 536L494.8 542.2L491 543.5Z"/>
</g>
<g fill="none" stroke-linejoin="round" stroke-linecap="round">
<g mask="url(#ex0)">
<path stroke="#444" stroke-width="2.5" d="M265 61.5L274.8 68.5L283.5 74.8L301 81L316 79.8L326 91L336 103.5L356 93.5L376 83.5L396 72.2L411 66L418.5 61.5M265 102.2L273.5 109.8L276 116L274 119.8L274.8 128.5L276.5 141L271 134L265 138.5M274.8 120.5L286 124.8L297.2 129.8L308.5 126L316 136L322.2 141L328.5 152.2L333.5 161L337.2 173.5L342.2 186L353.5 193.5L356 194.8M405 69.8L412.2 93.5L403.5 108.5L399.8 128.5L401 151L373.5 168.5L356 194.8L351 198.5M265 159.8L273.5 178.5L282.2 196L287.2 213.5L288.5 226L277.2 231L265 239.8M318.5 226L328.5 213L339.8 209L351 201M319.8 227.2L324.8 229.8L336 229.8L344.8 226L356 219.8L366 224L371 222.2L386 228.5L392.2 231L392.2 237.2L366 241L341 246L331 247.2L321 248.5L311 253.5L306 249.8L299.8 246L298.5 253.5L293.5 261L296 268.5L302.2 276L303.5 281L298.5 286L289.8 278.5L281 271L271 269.8L265 268.5M392.2 231L408.5 232.2L431 248.5L446 258.5L468.5 267.2L496 273.5L531 275.5L556 267.2L578.5 260.5L591 262.2L603.5 268.5L613.5 274.8L640 278M524.8 276L518.5 296M616 61.5L588.5 97.2L637.2 128.5L640 133.5M637.2 128.5L640 126M603.5 281L611 274.8M603.5 281L611 296M265 412.2L271 421L286 413.5L301 406L318.5 398.5L331 392.2L346 389.8L361 384L376 385.5L391 386L406 391L411 396L418.5 416L424 429.8M424 429.8L381 447.2L376 456L379.8 461L386 458.5L394.8 461L411 468.5L431 476L454.8 482.2L471 488.5L479.8 491L511 494.8L531 492.2L568.5 468.5M424 429.8L488.5 409.8L493.5 423.5L479.8 428.5L478.5 443.5L479.8 491M488.5 409.8L496 407.2L508.5 423.5L523.5 422.2L533.5 448.5L558.5 438.5L568.5 456L566 461M493.5 423.5L503.5 461L506 471L496 478.5L511 494.8M496 451L497.2 468.5L503.5 471M459.8 446L471 458.5L478.5 459.8M459.8 446L458.5 458.5L453.5 459.8L454.8 482.2M461 451L462.2 468.5L459.8 476L468.5 481L471 488.5M517.2 296L518.5 303.5L531 321L536 341L543.5 356L558.5 366L571 359.8L579.8 377.2L573.5 382.2L576 391L566 403.5L581 404.8L626 401L640 393.5M579.8 377.2L588.5 373.5L598.5 363.5L626 353.5L640 348.5M608.5 296L616 312.2L640 303.5M265 454.8L293.5 452.2L301 446L321 438.5L337.2 437.2L363.5 443.5L376 456M301 446L308.5 466L319.8 481L337.2 482.2L354.8 481L366 471L373.5 458.5L376 456M265 501L291 513.5L313.5 536M354.8 481L352.2 488.5L363.5 501L357.2 508.5L373.5 536M265 431L276 428.5L283.5 451M276 421L276 428.5M286 413.5L301 421L303.5 422.2L319.8 419.8L326 436L307.2 443.5L302.2 438.5L306 431L303.5 422.2M321 438.5L301 446M356 407.2L358.5 396L368.5 399.8L373.5 394.8L381 396L386 387.2L381 396L376 406L366 416L363.5 428.5L356 428.5ZM367.2 424.8L383.5 423.5L392.2 418.5L397.2 426L392.2 434.8L386 441L363.5 441L368.5 432.2L366 428.5L367.2 424.8M411 471L416 486L431 493.5L456 501L476 508.5L506 511L531 506L546 501L556 508.5L588.5 508.5L586 498.5L568.5 468.5M476 508.5L476 536M441 498.5L436 511L431 521L436 536M388.5 521L403.5 508.5L418.5 502.2L436 521M388.5 521L393.5 526L396 536M436 511L476 508.5M531 506L536 518.5L506 521L496 528.5L491 536M546 501L531 492.2M588.5 508.5L598.5 516L640 503.5M265 571L304.8 571L338.5 568.5L386 562.2L406 568.5L418.5 578.5L426 593.5L436 611L453.5 623.5L466 634.8L476 636L491 639.8L511 638.5L531 631L543.5 621L568.5 596L598.5 589.8L640 558.5M318.5 536L311 551L304.8 571L293.5 598.5L276 641L265 666M376 536L378.5 547.2L386 552.2L408.5 556L426 562.2L428.5 536M426 562.2L418.5 578.5M426 562.2L439.8 567.2L443.5 581L453.5 591L476 608.5L471 626L466 634.8L462.2 656M448.5 586L491 548.5L531 596L543.5 608.5L543.5 621M448.5 586L453.5 591M396 536L394.8 542.2L399.8 551L403.5 547.2L408.5 556M476 608.5L491 616L506 613.5L531 596M491 548.5L482.2 536M491 547.2L506 538.5L521 536M538.5 536L536 541L513.5 551L511 561L518.5 568.5L531 586L532.2 596M531 596L578.5 556L606 536M578.5 556L599.8 589.8M640 561L631 556L628.5 566L616 581L603.5 586M543.5 621L538.5 636L526 643.5L516 676M489.8 673.5L516 676L566 682.2L619.8 687.2L624.8 648.5L631.2 637.5L642 613.2M566 682.2L566 726L562.2 776M619.8 687.2L621 699.8L611 776M621 699.8L640 692.2M432.2 658.5L441 653.5L451 652.2L458.5 644.8L463.5 646L473.5 653.5L469.8 659.8L462.2 656L454.8 671L446 672.2L438.5 668.5ZM462.2 656L489.8 673.5L444.8 726L423.5 708.5L431 683.5L438.5 668.5L446 672.2L454.8 671ZM443.5 536L446 549.8L454.8 548.5L453.5 536M439.8 558.5L463.5 556L468.5 568.5L456 577.2L446 571ZM456 583.5L482.2 559.8L487.2 568.5L509.8 573.5M459.8 588.5L468.5 586L477.2 593.5L478.5 602.2L467.2 598.5ZM493.5 581L504.8 577.2L507.2 586L496 589.8ZM506 593.5L516 592.2L521 603.5L531 599.8L536 608.5L528.5 618.5L518.5 616L516 608.5M473.5 618.5L481 611L493.5 616L491 631L481 633.5L476 626ZM496 618.5L506 613.5L513.5 623.5L511 632.2L498.5 633.5ZM458.5 588.5L463.5 594.8L478.5 604.8L489.8 602.2L491 596L503.5 593.5M566 720L563.5 767.5L562.2 798.8L546 827.5L516 882.5L498.5 917.5M619.8 720L611 770L606 830L606 917.5M546 827.5L556 830L606 832.5L633.5 842.5L640 843.8M633.5 842.5L633.5 868.8L606 866.2M563 837L604.2 838.8L604.2 886.2L594.8 886.2L594.8 880L564.8 881.2L564.8 870L563.5 852.5ZM565.5 856.2L581 861.2L589.8 862.5L589.8 872.5L583.5 874.5L576 870L565.5 867.5M565.5 851.2L581 851.2L581 858.8M594.8 880L594.8 873.8L602.2 873.8L603.5 878.8M516 882.5L521 880L563.5 881.2M531 882.5L541 892.5L552.2 898.8L556 893.8L573.5 900L581 897.5L603.5 898.8L606 902.5M436 720L444.8 726.2L451 720M640 133.5L646.2 141L652.5 149.8L656.9 163.5L651.9 169.8L653.1 174.1L660.6 167.9L666.9 171.6L673.1 169.8L681.2 172.9L688.1 171L693.8 174.1L696.2 176M640 123.5L692.5 90.4L706.2 87.9L715 79.1L722.5 77.9L726.2 74.8L732.5 62M702.5 62L706.2 69.8L715 79.1M726.2 74.8L750 82.9L757.5 89.1L765 96L770 109.8L777.5 126L795 139.8L815 154.8L822.5 159.8L832 156M750 86L745 89.8L735 104.8L725 123.5L717.5 143.5L710 162.2L700 176M777.5 126L776.2 129.8L747.5 142.2L735 151L726.2 162.2L722.5 176M740 147.2L732.5 136L733.8 129.8L745 127.2L746.9 121L737.5 122.2L735 119.1L743.8 114.8L750 114.1L751.9 109.8L755 108.5L757.5 102.2L760 106L760.6 111L765 114.8L763.8 123.5L760 126L748.8 131L746.2 136L747.5 142.2M768.8 112.2L770 109.8M726.2 169.1L740 164.8L752.5 162.2L760 166L763.8 176M773.8 71L778.8 67.9L787.5 69.8L801.2 63.5L803.8 62M773.8 71L777.5 73.5L780 79.1L787.5 79.8L798.8 77.2L803.8 82.9L811.2 81L818.8 89.8L823.8 88.5M807.5 62L815 72.2L823.8 88.5L827.5 87.2L828.8 97.2L832 98.5M827.5 62L820 78.5L822.5 81L832 84.8M773.8 101L783.8 92.2L785.6 86L790 84.8L797.5 91L798.1 96L785 99.8L777.5 105.4L773.8 101M800 96L801.2 87.2L803.8 82.9M770 109.8L785 103.5L800 96L820 88.5L832 86M787.5 102.2L793.8 106L790 109.8L795 114.1L786.2 118.5L791.9 125.4L796.2 121L801.2 116L806.2 118.5L807.5 125.4L820 121L821.2 109.8L817.5 96L800 104.8L801.2 111L805 114.8M807.5 125.4L832 122.2M797.5 136L802.5 131L807.5 125.4M795 139.8L787.5 151L783.8 162.2L785 176M815 154.8L813.8 167.2L806.2 171L802.5 176M840.8 62L837 68.5L840.1 74.8L842 76.6M832 82.9L842 76.6L857 76L863.2 84.8L873.2 93.5L868.2 103.5L865.1 117.2L863.2 131L860.8 143.5L855.8 176M898.2 62L888.2 72.2L873.2 93.5M882 62L879.5 67.2L888.2 72.2M882 62L867 68.5L869.5 73.5L870.8 82.2L874.5 82.2L869.5 88.5M834.5 97.2L845.8 89.8L857 81L859.5 88.5L861.4 104.8L861.4 117.2L853.9 117.9L853.9 106L852.6 98.5L850.8 96L835.8 101.6ZM832 122.2L865.1 117.2M883.9 82.9L892 84.1L893.2 87.2L900.1 85.4L904.5 87.2L906.4 90.4L912 89.5L918.2 91.6L917 97.2L913.9 99.1L914.5 118.5M907 99.8L905.8 93.5M911.4 99.8L912 119.1M892 93.5L889.5 98.5L878.9 99.8L888.2 106L889.5 111L893.2 114.8L899.5 114.1L902 110.4M913.2 128.5L907 137.2L909.5 146L900.8 152.9L897 149.8L884.5 154.8L883.2 161L887 166L893.2 162.2L900.8 164.8L894.5 176M883.2 161L879.5 164.8L875.8 160.4L869.5 164.8L872 170.4L862 167.2M844.5 123.5L847 124.8L849.5 131L857 134.8L855.8 139.8L847 133.5L842 138.5L834.5 141L832 142.2M855.8 139.8L858.2 141L854.5 143.5L853.2 151L855.8 153.5L852 156L853.2 162.2L845.8 166L839.5 172.2L838.2 176M913.2 128.5L917 129.8L924.5 151L923.9 168.5M899.5 174.8L923.9 168.5L934.5 166L942 171L944.5 176M832 82.9L832.5 84.8L833.5 122.2L835.8 143.5L844.5 176M701.2 176L705 179.8L707.5 186L715 187.9L720 188.5L723.8 176M720 188.5L710 197.2L690 209.8L687.5 214.8L665 231L643.8 247.2L640 256L640 263.5L647.5 266.6L655 269.1L666.2 269.1L671.2 272.2L677.5 271L683.8 262.2L690 258.5L700 267.2M762.5 176L763.1 194.8L761.2 204.8L740 228.5L730 239.8L710 254.8L700 267.2L690 284.8L688.8 291L690 296M666.2 269.1L656.2 281M640 276L656.2 282.2L688.8 291M656.2 282.2L663.1 288.5L661.2 296M677.5 271L687.5 272.2L686.2 277.2L677.5 277.9L675 287.2M688.8 291L715 284.8L723.8 282.2L754.4 282.9L777.5 282.2L801.2 279.8L812.5 278.5L832 274.8M697.5 274.8L706.2 276L712.5 282.2L715 284.8L720 296M731.9 241L743.8 252.2L750 246L757.5 246L760 248.5L756.2 251L756.2 254.8L763.8 256L780 254.8M713.8 257.2L722.5 247.2L731.9 241M713.8 257.2L716.9 262.2L716.2 271L723.8 282.2M737.5 261L743.8 264.8L750 262.2L752.5 256L756.2 254.8M743.8 264.8L742.5 276L733.8 278.5L732.5 282.2M746.2 268.5L755 269.1L755 274.8L754.4 282.9L753.8 288.5L757.5 291L756.9 296M760 271L765 276L771.2 269.8L777.5 276L782.5 278.5M772.5 261L777.5 263.5L779.4 268.5L775 271L781.2 277.2L777.5 282.2L783.8 293.5L781.2 296M780 254.8L788.8 258.5L802.5 263.5L811.2 267.2L820 262.2L812.5 253.5L817.5 248.5L815 243.5L820 239.8L825 248.5L832 246M802.5 263.5L800 271L801.2 279.8M811.2 267.2L813.8 278.5L812.5 288.5L807.5 296M777.5 283.5L795 284.8L792.5 292.2L783.8 293.5M761.9 205.4L773.8 227.2L782.5 246L788.8 258.5L798.8 279.8L802.5 296M832 181L803.8 194.8L777.5 221L773.8 227.2M777.5 221L790 228.5L793.8 227.2L797.5 222.2L812.5 216L810 206L806.2 194.8M793.8 227.2L797.5 231L800 236L828.8 224.1L832 222.2M788.8 241L800 236M832 236L802.5 241L782.5 246L780 254.8L755 274.8M763.8 176L761.9 194.8M785 176L783.8 181L777.5 186L770 194.8L763.1 203.5M777.5 188.5L786.2 188.5L792.5 192.2L798.8 188.5L800 182.2L795 178.5L802.5 176M792.5 192.2L797.5 199.8L807.5 204.8L810 206M812.5 206L820 213.5L828.8 224.1M817.5 176L821.2 187.2L826.2 198.5L832 204.8M898.2 176L888.2 184.8L873.2 197.2L867 201L868.2 204.8L879.5 205.4L885.8 200.4L912 192.9L928.9 182.2L929.5 176M885.8 200.4L889.5 207.2M852.6 206L865.1 202.9L867 201M889.5 207.9L913.2 196.6L935.8 184.8L944.5 182.9L946.4 176M889.5 207.9L879.5 213.5L870.8 222.2L866.4 226L865.8 231L868.9 232.9M832 223.5L844.5 214.8L852.6 217.2L855.8 208.5L889.5 207.9M857 182.2L862 187.9L873.2 183.5L874.5 188.5L894.5 176M857 182.2L853.2 192.2L852.6 204.8M832 246L839.5 241L850.8 239.1L860.8 241L865.8 249.8M839.5 251L850.8 247.2L852 252.9L844.5 256L839.5 261L844.5 263.5M905 436L903.8 461L900 483.5L892.5 508.5L883.8 523.5L882.5 536M905 436L917.5 439.8M800 378.5L805 371L815 367.2L832.5 367.2L842.5 374.8L835 391L825 401L818.8 413.5L820 421L827.5 439.8L833.8 448.5L832.5 461L840 476L842.5 486L837.5 503.5L832.5 521L831.2 533.5M800 378.5L802.5 384.8L810 382.2L815 393.5L825 402.2M767.5 418.5L781.2 431L790 432.2L797.5 441L805 448.5L810 439.8L815 441L827.5 439.8M782.5 434.8L735 511L725 536M693.8 491L703.8 493.5L706.2 498.5L700 508.5L698.8 516L690 518.5L700 521L708.8 531L710 536M667.5 536L640 616M725 538.5L712.5 561L695 593.5L690 618.5L675 661L665 681L640 692.2M655 584.8L693.8 597.2M667.5 553.5L686.2 546L687.5 536M686.2 546L685 561L675 562.2L676.2 583.5L686.2 584.8L682.5 561M686.2 584.8L693.8 597.2M670 561L668.8 588.5M647.5 558.5L655 566L665 551M832.5 536L837.5 537.2L852.5 542.2L875 547.2L881.2 544.8L882.5 536M790 721L910 719.8L908.8 776M790 721L783.8 776M841.2 776L842.5 767.2L856.2 767.2L858.8 769.8M708.8 536L712.5 541L720 543.5M790 721.2L910 720L908.8 782.5M790 721.2L780 812.5L811.2 831.2L877.5 843.8M780 812.5L777 842.5L770 850L760 853.8L730 845L722.5 850L702.5 850L672.5 851.2L655 850L640 842.5M672.5 851.2L671.2 856.2L650 863.8L640 856.2M712.5 852.5L713.8 867.5L707.5 880L712.5 895L720 905L725 917.5M841.2 767.5L856.2 767.5L857.5 771.2L852.5 785L857.5 802.5L860 810L850 816.2L830 818.8L826.2 821.2L811.2 808.8L813.8 806.2L825 812.5L833.8 807.5L832.5 800L838.8 800L842.5 787.5ZM877.5 843.8L890 860L905 866.2L917.5 875L922.5 887.5L932.5 897.5L938.8 908.8L940 917.5"/>
<path stroke="#444" stroke-width="1.3" d="M1024 98.5L1014.5 102.2L1013.2 106L1004.5 109.8L1000.8 123.5L998.2 126L999.5 133.5L994.5 138.5L995.8 143.5L989.5 148.5L990.1 152.2L982 159.8L986.4 162.2L982 176M982 176L980.8 181.6L975.8 182.2L974.5 179.8L964.5 186L949.5 179.8L948.9 182.9L957 187.2L958.2 190.4L964.5 187.9L970.8 191.6L977.6 189.1L979.5 192.2L975.1 211L955.1 204.1L952.6 206L955.8 211L952 219.8L955.1 227.2L952.6 241L952 244.1L955.8 242.2L954.5 256L949.5 264.8L938.2 257.9L924.5 257.9L912 260.4L892 248.5L875.8 246M863.2 296L895.8 273.5L908.2 271.6L918.2 276L940.1 279.8L938.2 296M937.5 296L936.2 308.5L930 326L923.8 341L920 358.5L915 381L916.2 393.5L912.5 408.5L905 436M905 463.5L917.5 443.5L921.2 439.8L932.5 423.5L947.5 404.8L953.8 403.5L956.2 413.5L962.5 431L966.2 438.5L967.5 456L972.5 473.5L987.5 463.5L1000 459.8L1013.8 463.5L1017.5 473.5L1024 479.8M836 296L831.5 303L832.8 305L837 302L840.2 305L831.5 315.5L824 325L825.2 327.5M863 296L846.5 313L835.2 326.2L825.2 327.5M1024 701L1015 706L1001.2 712.2L995 726L985 736L972.5 737.2L952.5 743.5L947.5 753.5L940 766L927.5 774.8M858.8 769.8L865 768.5L880 772.2L890 776M997.5 720L987.5 732.5L972.5 737.5L950 745L946.2 755L937.5 767.5L925 778.8L907.5 783.8L890 776.2L862.5 768.8M828.8 822.5L860 820L870 827.5L880 837.5L878.8 843.8M1027.8 61.5L1031.5 71L1035.2 76L1034.5 88.5L1030.2 93.5L1026.5 97.2L1024 98.5M1024 481L1031.5 473.5L1049 454.8L1070.2 446.8L1077.8 449.8L1081.5 458.5L1090.2 463.5L1094 473.5L1097.8 486L1102.8 503.5L1109 508.5L1113.2 508.5M1106 708.5L1099 711L1091.5 703.5L1082.8 686L1074 682.2L1065.2 680.5L1056.5 685.5L1049 689.8L1039 696L1026.5 699.8L1024 701"/>
<path stroke="#1a1a24" stroke-width="0.9" d="M342.2 102.2L306 124.8M265 118.5L276 121.5L286 125.5M308.5 126L321 148.5L333.5 173.5M265 156L274.8 181L281 191M288.5 225.5L318.5 228.5L331 229.8M351 196L362.2 206L358.5 219.8L366 224L391 231M486 248.5L566 236L640 209.8M486 248.5L456 263.5L431 296M482.2 249.8L436 296M552.2 238.5L563.5 227.2L568.5 226L571 231L578.5 246L579.8 261L581 296M557.2 239.8L576 244.8L588.5 229.8M578.5 261L577.2 281L578.5 296M603.5 281L578.5 289.8L571 296M433.5 296L351 378.5L346 389.8L341 406L338.5 436L337.2 481M431 296L349.8 377.2L343.5 389.8L338.5 406L336.5 436L336 481M640 319.8L558.5 366L506 396L488.5 409.8M640 366L623.5 386L571 453.5L568.5 468.5M640 371L626 388.5L573.5 456M488.5 307.2L508.5 326L531 328.5M543.5 353.5L508.5 368.5L499.8 381L506 396M571 296L572.2 311L566 326L578.5 352.2M265 461L293.5 456L321 439.8M265 532.2L291 513.5L318.5 482.2M337.2 437.2L341 468.5L353.5 481M338.5 438.5L373.5 451L396 463.5L386 493.5M366 471L386 493.5L386 499.8M363.5 496L373.5 488.5M396 463.5L431 493.5L476 508.5M479.8 443.5L491 426M416 461L436 462.2L433.5 489.8M409.8 438.5L412.2 446L394.8 461M412.2 446L418.5 461L411 468.5M479.8 491L506 496L546 496L586 498.5M337.2 482.2L321 536M338.5 482.2L333.5 496L318.5 536M351 483.5L331 528.5L343.5 532.2M354.8 493.5L338.5 536M265 572.2L293.5 571L338.5 569.8M306 603.5L401 592.2L418.5 578.5M265 668.5L306 603.5M364.8 576L383.5 577.2L398.5 588.5L401 592.2M323.5 536L323.5 551L331 561L376 551M521 676L528.5 678.5L521 711L518.5 776M454.8 738.5L518.5 744.8M454.8 738.5L451 762.2M562.2 767.2L611 771M543.5 621L546 641L528.5 678.5M640 543.5L543.5 618.5M640 578.5L631 586L624.8 648.5M601 591L626 607.2M406 602.2L409.8 608.5M424.8 656L438.5 668.5M265 551L288.5 547.2M278.5 571L293.5 598.5M311 571L293.5 598.5M271 681L278.5 661M338.5 536L336 543.5M356 536L351 556M368.5 536L363.5 553.5M406 568.5L416 581L436 611L471 626M265 661L278.5 636L293.5 598.5M454.8 738.8L518.5 745M454.8 738.8L451 762.5M521 720L519.8 821.2L522.2 880L528.5 908.8M519.8 821.2L546 827.5M563.5 767.5L611 771.2M562.2 798.8L564.8 881.2L566 887.5M440.5 900L440.5 884.2L506 881.8L522.2 887L531 882.5M265 885L269.8 892.5M710 62L720 72.2L726.2 74.8L750 82.9M715 62L722.5 73.5M727.5 73.5L756.2 66.6L750 79.8L736.2 86L736.2 103.5M756.2 66.6L763.8 68.5L765 96L768.8 112.2L763.8 164.8M763.8 68.5L781.2 62M781.2 62L797.5 72.2L807.5 71M806.2 62L823.8 88.5L832 106M735 104.8L715 151L700 174.8M770 109.8L777.5 126L795 139.8L832 173.5M795 139.8L788.8 156L786.2 176M815 154.8L817.5 166L827.5 176M863.2 84.8L907 112.2L917 129.8M940.8 62L918.2 97.2L917 129.8M832 123.5L835.8 143.5L844.5 176M832 84.8L857 77.2M832 118.5L865.1 116M640 211L675 198.5L692.5 189.8L702.5 179.8L705 176M640 209.8L677.5 196.6L700 181M772.5 228.5L750 246L737.5 261L723.8 282.2M750 246L763.8 256L832 279.8M818.8 176L825 201L832 213.5M812.5 206L817.5 231L832 263.5M782.5 244.8L806.2 246.6L820 262.2L832 263.5M745 296L754.4 282.9M690 284.8L696.2 274.8L701.2 266M850.8 176L853.2 204.8L856.4 219.1L861.4 241M856.4 219.1L869.5 223.5L875.8 234.8L865.8 243.5M856.4 219.1L832 231M837 229.8L845.8 242.2M832 181L840.8 201L853.2 205.4M875.8 237.2L832 276M876.4 239.8L832 282.2M852 239.8L858.2 253.5M832 251L850.8 268.5M845.8 176L852 183.5L855.8 176M953.8 403.5L961.2 386M828.8 438.5L846.2 474.8L832.5 533.5M1024 493.5L1012.5 503.5L990 536M832.5 536L832.5 564.8L845 576L873.8 573.5L902.5 547.2L971.2 562.2L990 536M873.8 573.5L850 653.5L852.5 721L858.8 769.8M671.2 536L640 611M665 536L640 558.5M852.5 720L858.8 768.8M780 812.5L788.8 808L812.5 808.8M640 842.5L655 850L760 853.8M1024 496L1044 486L1066.5 516L1089 508.5L1113.2 513.5"/>
</g>
<g mask="url(#ex1)"><g clip-path="url(#t15)">
<path stroke="#444" stroke-width="2.5" d="M600.2 416L570.2 453.5L572.8 461L584 498.5L587.8 508.5L574 519.8L560.2 516L551.5 511L544 497.2M544 481L572.8 461L581.5 453.5L606.5 428.5L614 416M581.5 453.5L596.5 449.8L606.5 428.5M544 443.5L557.8 437.9L566.5 454.8L564 457.2L567.1 463.5M584 498.5L614 488.5L641.5 474.8L651.5 461L656.5 458.5M641.5 474.8L645.2 491M629 443.5L640.2 447.2L656.5 458.5L676.5 474.8L702.8 466L706.5 474.8M645.2 491L676.5 474.8M599 512.2L609 506L624 501L645.2 491L659 487.2L661.5 492.2M596.5 449.8L597.8 456L604 466L606.5 476L614 488.5M604 466L624 451L629 443.5L634 431L650.2 416M606.5 476L624 466L640.2 447.2M624 466L626.5 472.2L636.5 468.5L646.5 459.8L650.2 453.5M615.2 418.5L642.8 417.2L644 422.2L631.5 437.2L621.5 434.8L617.8 428.5L614 422.2ZM602.8 434.8L614 433.5L619 441L625.2 448.5L604 458.5L599 453.5L599 443.5ZM602.8 452.2L611.5 446L620.2 451M585.2 459.1L585.9 471L583.4 473.5L585.2 482.2L595.2 484.8L606.5 477.2M586.5 471L591.5 466L599 473.5L604 471M652.8 446L669 436L680.2 447.2L696.5 439.8M652.8 446L655.2 451L656.5 458.5M661.5 416L664 424.8L675.2 421L680.2 428.5L695.2 439.1L700.2 453.5L702.8 466M664 424.8L652.8 432.2L647.8 437.2L640.2 447.2M697.8 416L702.8 432.2L695.2 439.1M702.8 432.2L716.5 428.5L736 418.5M702.8 466L719 466L736 447.2M719 466L722.8 472.2L736 457.2M722.8 472.2L719 471L706.5 474.8L694 491L702.8 492.2L705.2 501L699 506L697.8 516L689 517.2L685.2 528.5L687.8 536M689 517.2L694 519.8L706.5 536M694 491L681.5 493.5L676.5 497.2L674 506L661.5 514.8L664 536M694 492.2L681.5 513.5L671.5 536M639 501L656.5 497.2L659 502.2L649 512.2L651.5 526L639 528.5L631.5 516L629 511ZM629 511L601.5 536M594 501L599 512.2L596.5 518.5L574 519.8M619 487.2L631.5 483.5L641.5 478.5M642.8 488.5L634 494.8L624 496L619 487.2M707.8 434.8L721.5 426L725.2 428.5L719 437.2L711.5 439.8ZM544 522.2L556.5 516L560.2 517.2L551.5 524.8L544 528.5M736 508.5L725.2 536"/>
<path stroke="#1a1a24" stroke-width="0.9" d="M544 494.8L581.5 499.1M585.2 481L621.5 466L644 441L656.5 432.2L674 419.8M599 517.2L700.2 474.8L719 466M664 423.5L680.2 447.2M736 432.2L706.5 474.8L681.5 503.5L664 536M736 438.5L692.8 491L666.5 536M544 519.8L574 519.8"/>
</g></g>
<g mask="url(#ex1)"><g clip-path="url(#t16)">
<path stroke="#444" stroke-width="2.5" d="M640 299.8L658.8 296M691.2 296L696.2 301L700 309.8L701.9 322.2L698.8 332.2L691.2 344.8L690 352.2L695 368.5L700 377.2L701.2 383.5L700 384.8M640 338.5L678.8 322.9L690 325.4L701.9 322.9L720 317.2L730 309.8M720 296L722.5 303.5L730 309.8L733.8 318.5L742.5 327.2L750 326L753.8 329.1L760 342.2L758.8 349.8L760 359.8L751.2 369.8L743.8 386L738.8 394.8L727.5 412.2L725 416M733.1 317.9L760 306L780 297.2L783.8 296M750 326L793.8 311L813.8 313.5M806.2 296L795 309.8L785 327.2L777.5 338.5L770 354.8L760 359.8L751.2 369.8L728.8 371L713.8 382.2L700 384.8L661.2 389.8L640 402.2M695 368.5L702.5 358.5L710 349.8L721.2 338.5L733.8 332.2L743.8 329.8L750 326M705 359.8L715 363.5L727.5 369.8L728.8 371M728.1 371L758.8 342.9M768.8 354.8L787.5 338.5L813.8 317.2L832 303.5M820 296L815 314.8L821.2 338.5L802.5 361L797.5 377.2L771.2 416M680 305.4L691.2 297.2M680 305.4L683.1 312.2L683.8 317.2L688.8 322.9M710 322.2L706.2 316L710 312.2L711.2 304.8L717.5 301L720 296M756.2 296L757.5 301L760 305.4M781.2 301L780 296M761.2 307.9L776.2 307.2L780 312.2L765 317.2L762.5 313.5L761.2 307.9M765 321L780 314.8M765 321L765 323.5L770 328.5L767.5 336M747.5 334.8L753.8 329.1M747.5 334.8L750 337.2L752.5 342.9L760 342.2M765 337.2L777.5 338.5M777.5 338.5L778.8 343.5M780 342.2L787.5 344.8L797.5 359.8L801.2 361M787.5 337.2L800 351L797.5 359.8M778.8 356L796.2 358.5L790 369.8L781.2 372.2M793.8 327.2L807.5 337.2L815 327.2M770 354.8L778.8 356L772.5 366L765 368.5L757.5 367.2M751.2 373.5L756.2 372.2L760 376L781.2 374.8L777.5 381L757.5 389.1L751.2 383.5L755 377.2L751.2 373.5M781.2 374.8L790 369.8M713.8 382.2L715 388.5L720 392.2L727.5 393.5L732.5 388.5L738.8 384.8L743.8 386M711.9 391.6L715 394.8L726.2 396L730 391L737.5 387.2L740 391L736.2 398.5L731.2 401.6L725 399.8L717.5 401L710 398.5ZM701.9 387.9L710 389.1L708.1 397.2L700 399.8L685 407.9L681.2 404.8L681.2 399.8M708.1 397.2L710 398.5M705 402.2L706.2 408.5L705 416M700 399.8L705 402.2M731.2 401.6L727.5 412.2M740 399.8L757.5 389.1M740 399.8L738.8 404.8L743.8 406L742.5 416M703.8 342.2L708.1 334.8L710 328.5L712.5 324.8M703.8 342.2L708.8 348.5L711.2 351M663.8 376L682.5 358.5L690 357.2M640 391L663.8 376L665 379.8L687.5 369.8L691.2 376L687.5 383.5M640 327.2L678.8 308.5L683.1 312.2M651.2 399.8L660 403.5L658.8 416M676.2 416L675.6 408.5L681.2 399.8M797.5 378.5L815 366L832 366.6M798.8 383.5L802.5 387.2L808.8 382.2L815 383.5L813.8 392.2L820 394.8L825 402.2L820 416M820 394.8L832 388.5"/>
<path stroke="#1a1a24" stroke-width="0.9" d="M640 319.8L680 305.4M640 354.8L690 325.4M738.8 304.8L743.8 313.5L750 326L760 342.2M738.8 304.8L743.8 296M823.8 339.8L796.2 379.8L765 416M806.2 361L763.8 416M682.5 386L686.2 376L695 368.5M660 389.8L659.4 408.5L661.2 416M832 296L821.2 338.5M718.8 319.8L720 326"/>
</g></g>
<g mask="url(#ex2)"><g clip-path="url(#t17)">
<path stroke="#444" stroke-width="2.5" d="M640 402.2L660 401L673.8 401.6M701.2 376L701.9 383.5L700 384.8L661.2 389.8L651.2 398.5L640 392.2M661.2 389.8L659.4 401L663.8 424.1L671.2 434.8L680 447.9M700 384.8L701.9 388.5L690 394.8L681.2 401L676.2 408.5L675 417.2L678.8 424.8L690 431L695 438.5L698.8 446L701.2 463.5L706.2 473.5L705 479.8L695 491L693.8 496M640 428.5L663.8 424.1L672.5 419.8L675.6 418.5M640 446L647.5 434.8L663.8 424.1M680 447.9L695 438.5L705 431L720 422.2L727.5 412.2L732.5 402.2L740 391L743.8 386L747.5 376M640 468.5L658.8 458.5L680 447.9M652.5 446L667.5 436L671.2 434.8M652.5 446L655 451L658.8 458.5L667.5 468.5L677.5 474.8L695 469.8L701.2 463.5L702.5 466L716.2 464.8M677.5 474.8L658.8 487.2L645 492.2L642.5 476L640 473.5M658.8 487.2L661.2 496M681.2 401L682.5 406L686.2 408.5L692.5 406L705 401L708.1 398.5L710 389.8M682.5 412.2L687.5 414.8L693.8 417.2L695 422.2L700 424.8L705 431M682.5 412.2L692.5 406M705 401L705 408.5L707.5 409.8L715 411L717.5 417.2L720 422.2M711.9 391.6L715 394.8L726.2 396L730 391L737.5 387.2L740 391L736.2 398.5L731.2 401.6L725 399.8L717.5 401L710 398.5ZM713.8 387.2L715 388.5L720 392.2L727.5 393.5L732.5 388.5L738.8 384.8L743.8 386M713.8 387.2L715 381L720 376M740 399.8L748.8 383.5L752.5 388.5L755 389.8M751.2 376L755 377.2L751.2 383.5L757.5 389.1L777.5 381L783.8 376M740 399.8L757.5 389.1M731.2 402.2L738.8 406L743.8 404.8L745 409.8L740 418.5L738.8 423.5L725 421M741.2 404.8L787.5 376M738.8 423.5L735 438.5L732.5 447.2L726.2 451L716.2 464.8L720 468.5L722.5 471L766.2 418.5L798.8 376M765 417.2L720 468.5M707.5 433.5L715 428.5L725 422.2L726.2 426L722.5 431L722.5 436L713.8 438.5L710 437.2ZM766.2 418.5L775 427.2L781.2 431L793.8 438.5L798.8 441L802.5 447.2L807.5 448.5L810 441L815 442.2L832 446M781.2 433.5L743.8 496M798.8 376L801.2 384.8L806.2 382.2L812.5 383.5L813.8 389.8L818.8 394.8L823.8 401L818.8 413.5L823.8 431L827.5 443.5L832 444.8M818.8 394.8L832 388.5M832 456L830.6 466L832 468.5M650 446L653.8 436L668.8 426M640 414.8L643.8 417.2L642.5 423.5L640 424.8M647.5 451L648.8 456L645 463.5L640 466M640 449.8L647.5 451"/>
<path stroke="#1a1a24" stroke-width="0.9" d="M820 413.5L832 436M660 401L671.2 419.8L680 447.9M640 449.8L652.5 436L672.5 419.8L677.5 426M658.8 458.5L695 438.5M660.6 488.5L702.5 468.5L715 467.2M665 491L710 471M682.5 384.8L687.5 376M698.8 376L701.2 383.5M695 493.5L717.5 471L792.5 376M697.5 491L715 481L720 473.5M698.8 492.2L716.2 482.2L721.2 474.8M725 451L733.8 437.2M686.2 419.1L686.5 423.5"/>
</g></g>
<g mask="url(#ex2)"><g clip-path="url(#t18)">
<path stroke="#444" stroke-width="2.5" d="M689.8 500L674 525L669 538.3L655.7 580M687.3 500L670.7 525.8L665.7 538.3L644.8 557.5L632.3 563.3L624 569.2M705.7 500L699 505L699.4 512.5L696.5 519.2L689.8 517.9L689.8 525.8L685.7 528.3L684 531.7L688.2 533.3L685.7 539.2L682.3 557.5L684 566.7L685.7 580M674 533.3L685.7 539.2M666.5 553.3L674 557.5L682.3 557.5M674 557.5L673.2 561.7L669 562.5L668.2 580M674.8 561.7L674 580M696.5 520L709 530.8L706.5 533.3L710.7 537.5L715.7 542.5L720.7 543.3M743.2 500L730.7 515L720.7 543.3L717.3 550L700.7 580M677.3 500L670.7 506.7L664 513.3L661.5 519.2L664.8 526.7L660.7 533.3L656.5 539.2L644.8 542.5L632.3 548.3L629 556.7L632.3 563.3L629 573.3L626.5 580M644.8 557.5L651.5 566.7L657.3 569.2M629.8 511.2L633.2 508.3L641.1 517.9L646.1 516.7L646.5 512.5L651.5 510.4L654.8 505L658.2 500M630.2 518.8L632.8 515.4L629.8 511.2M630.2 518.8L641.5 531.2L646.1 527.9L646.5 525L651.5 526.7L652.8 521.7L649 519.2"/>
<path stroke="#1a1a24" stroke-width="0.9" d="M624 501.7L640.7 500M624 506.7L639 500M633.2 580L636.5 565L644.8 557.5L664 538.3L682.3 508.3L687.3 500M679 508.3L682.3 508.3L680.7 505"/>
</g></g>
<g mask="url(#ex2)"><g clip-path="url(#t19)">
<path stroke="#444" stroke-width="2.5" d="M448 482.9L479.2 492.2L478 507.2L476.1 523.5L478 531L491.8 546.6L533 593.5M491.8 546.6L448 584.8M491.8 546.6L498 541L529.2 533.5L543 524.8L541.8 521L533 519.8L495.5 519.8M448 499.8L460.5 499.1L475.5 507.2L489.2 510.4L500.5 511L506.8 507.2L513 506L518 507.2L533 505.4L544.2 503.5L548 501L543 494.8L528 491.6L553 477.2L573 476M528 491.6L511.8 494.8L494.2 478.5L495.5 476M480.5 493.5L500.5 496.6L511.8 494.8M481.8 476L480.5 492.2M533 505.4L535.5 519.8M539.2 506L538.6 519.1M544.2 504.8L553 512.2L560.5 513.5L573 520.4L598 518.5L640 499.8M528 491.6L543 494.8L583 499.1L585.5 498.5M573 476L583 499.1L587.4 509.8L573 520.4M583 499.1L614.2 488.5L640 478.5M585.5 498.5L584.2 489.8L611.8 484.8L614.2 488.5M593 500.4L597.4 502.9L599.2 509.8L608 509.8L616.8 504.8L633 498.5L640 494.8M593 500.4L615.5 490.4L623 492.2L640 486M560.5 514.8L553 519.8L544.2 526L536.8 534.8L538 539.8L525.5 543.5L510.5 556L513 563.5L528 579.8L534.2 587.2M533 593.5L579.2 556L629.2 513.5L640 504.8M579.2 556L598 588.5L603 591M629.2 513.5L631.8 517.2L640 521M640 546L631.8 549.8L629.2 556L633 563.5L628 573.5L614.2 582.2L604.2 586L603 591M534.2 587.2L560.5 566L579.2 556M495.5 519.8L493 531L490.5 536L494.9 541M508 519.8L509.2 531L499.2 537.2M528 519.8L529.2 531M529.2 522.2L540.5 521.6L541.8 524.8L530.5 531ZM448 513.5L466.8 511L468 519.8L459.2 522.2L461.8 538.5L478 536M453 532.9L455.5 548.5L485.5 543.5M448 556L463 555.4L468 566M483.6 557.9L489.2 562.2L496.8 569.1L506.8 566M485.5 563.5L490.5 568.5L508 571L515.5 576M464.2 577.2L485.5 574.8L500.5 577.2M458 588.5L473 582.2L479.2 596M491.8 579.8L506.8 578.5L510.5 586L495.5 588.5L491.8 579.8M455.5 476L455.5 482.2L471.1 487.2M469.2 479.8L471.1 487.2"/>
<path stroke="#1a1a24" stroke-width="0.9" d="M448 498.5L476.8 508.5L533 519.8L560.5 513.5L585.5 512.2M479.2 493.5L503 496.6L528 492.2L543 496.6L583 499.8M598 518.5L633 503.5M640 562.2L603 586L588 596M543 586L548 596"/>
</g></g>
<g mask="url(#ex2)"><g clip-path="url(#t20)">
<path stroke="#444" stroke-width="2.5" d="M735.5 236L729.2 241L719.2 248.5L706.8 257.2L700.5 263.5L691.8 258.5L688 259.8M714.2 259.1L721.8 248.5L731.8 242.2L743 252.9L750.5 246.6L756.1 249.8L763 256L775.5 256.6M714.2 259.1L717.4 265.4L718 272.2L724.2 280.4M743 252.9L738 262.2L733 273.5L725.5 281M738 262.2L745.5 267.2L754.2 268.5L755.5 273.5L754.2 283.2M755.5 273.5L763 277.2L770.5 270.4L775.5 277.2L783 279.1M763 268.5L770.5 270.4M773 259.8L776.8 267.2L780.5 272.2L788 271L791.8 268.5M690.5 297.2L714.2 285.4M709.2 303.5L714.2 309.8L706.8 316L708 322.2M738 284.8L735.5 291L721.8 297.2M755.5 284.8L753 288.5L753 294.8L756.1 297.2L759.2 304.8L768 301L784.2 294.1M775.5 284.1L784.2 294.1M794.2 289.8L795.5 286L804.2 283.5L806.8 288.5M785.5 294.1L804.2 293.5M778 298.5L780.5 303.5L778 306L794.2 310.4M761.8 307.2L769.2 304.8L783 311M760.5 307.9L763 318.5M759.9 323.5L763 321L793 311M759.9 323.5L743 331L729.2 334.8L713 339.8L704.2 344.8L709.2 348.5L720.5 343.5M706.8 322.2L709.2 333.5L704.2 344.8M770.5 328.5L783 327.9M770.5 328.5L768 336L777.4 337.2M746.8 334.8L755.5 328.5L768 331M746.8 334.8L750.5 337.2L753 343.5L758 344.8L763 343.5M761.8 344.8L763 356M791.8 261L800.5 264.1L810.5 266L819.2 262.2M791.8 261L795.5 272.2L798 279.8M800.5 264.1L804.2 273.5L803 278.5M810.5 266L813 277.9M815.5 252.2L819.2 256.6L830.5 262.9L836.8 254.8M815.5 252.2L823 247.2L818 241L825.5 236M823 247.2L829.2 249.8L838 253.5M841.8 246L844.2 254.8L851.8 253.5L854.2 248.5M838 253.5L841.8 246L850.5 239.8L863 241L865.5 247.2M813 284.8L820.5 281L825.5 279.8L826.8 284.8M813 284.8L810.5 292.2L820.5 296M803 301L808 307.2L813 311M794.2 310.4L813 313.5L823 314.8M796.8 323.5L800.5 321L813 316M796.8 323.5L799.2 329.8L791.8 333.5L788 339.8L799.2 348.5L800.5 356M799.2 329.8L808 334.8L813 323.5M780.5 344.8L788 339.8M813 323.5L820.5 338.5"/>
<path stroke="#444" stroke-width="1.3" d="M880 245.4L875.5 246L868 252.2L858 262.2L844.2 283.5L831.8 303.5L836.8 301.6L840.5 304.8L825.5 323.5L824.2 327.2M834.2 326L844.2 313.5L863 294.8L880 283.5"/>
<path stroke="#16161c" stroke-width="1.5" d="M688 291L691.8 277.2L704.2 259.8L729.2 241L735.5 236M688 297.2L714.2 285.4L724.2 282.9L754.2 283.2L775.5 281.6L805.5 279.8L813 277.9L820.5 274.8L829.2 267.2L836.8 254.8L838 253.5L850.5 239.8M688 291L691.8 298.5L699.2 313.5L701.8 324.8L698 336L691.8 346L689.2 356M688 326L701.8 324.8L719.2 317.2L729.2 309.8L748 303.5L768 301L784.2 294.1L804.2 293.5M725.5 281L743 252.9L750.5 246.6M754.2 283.2L755.5 273.5L775.5 256.6L783 251M776.8 236L783 251L791.8 261L798 279.8M783 251L763 256M775.5 281.6L784.2 294.1M714.2 285.4L721.8 297.2L729.2 311L743 331M729.2 311L731.8 318.5L758 309.8L769.2 304.8M813 277.9L794.2 310.4L784.2 327.2L778 341L768 356M794.2 310.4L815.5 314.8M804.2 293.5L818 304.8L814.2 318.5L823 338.5L820.5 342.2M836.8 254.8L819.2 303.5L815.5 314.8M753 327.2L759.9 323.5M753 327.2L760.5 343.5L761.8 356M760.5 343.5L746.8 353.5L743 356M706.8 356L720.5 346L743 331L753 327.2"/>
<path stroke="#1a1a24" stroke-width="0.9" d="M750.5 246.6L738 262.2L724.2 282.9M763 236L750.5 246.6M753 284.8L739.2 304.8L750.5 328.5L758 343.5M739.2 304.8L729.2 309.8M781.8 245.4L805.5 246.6L820.5 261M775.5 281.6L819.2 262.2M794.2 309.8L814.2 304.1L825.5 304.8M875.5 238.5L823 316L820.5 336M876.8 242.2L838 296M788 356L813 331L824.2 328.5M820.5 342.2L813 356M824.2 323.5L831.8 317.2M824.9 325.4L833 319.1M825.5 327.2L833.6 321"/>
</g></g>
<g mask="url(#ex2)"><g clip-path="url(#t21)">
<path stroke="#444" stroke-width="2.5" d="M601.4 280L610.8 298.8L617 311.2L660.8 293.8L663.2 287.5L653.2 283.8L644.5 280M644.5 280L668.2 288.8L689.5 291.2M675.8 287.5L678.2 280M680.8 305L685.1 315L684.5 318.8L692 323.1L704 323.8M684.5 322.5L649.5 333.8L632 346.2L614.5 355L599.5 360L587 373.8L579.5 376.9M579.5 376.9L569.5 360M579.5 376.9L573.2 382.5L575.8 390L569.5 400M704 340L690.8 350L692 360L684.5 360L663.2 376.2L664.5 378.8L642 392.5L632 400M649.5 400L660.8 390L682 387.5L699.5 385"/>
<path stroke="#16161c" stroke-width="1.5" d="M689.5 280L689.5 291.2L692 297.5L699.5 310L702 323.8L697 336.2L690.8 350L695.8 367.5L702 383.8M704 291.2L690.8 297.5L677 305"/>
<path stroke="#1a1a24" stroke-width="0.9" d="M512 392.5L569.5 360L624.5 326.2L677 305M599.5 282.5L578.2 289.4L570.8 297.5L571.4 316.2L567 327.5L579.5 353.8M578.2 280L582 312.5L599.5 340L627 351.2M582 312.5L581.4 332.5L604.5 351.9L617 348.1M581.4 332.5L598.2 322.5L617 335M583.2 315L599.5 340M593.2 345L604.5 351.9M604.5 340L604.5 351.9M617 311.2L624.5 326.2M627 351.2L690.8 323.8M588.2 373.8L627 351.2M627 351.2L633.2 355L633.2 372.5L617 400M632 351.2L643.2 352.5L633.2 372.5M628.2 360L628.9 367.5L633.2 366.2M628.2 360L640.8 355M612 400L633.2 372.5M660.8 390L659.5 400M682 385L687 375L694.5 370"/>
</g></g>
<g><g clip-path="url(#t22)">
<path stroke="#1a1a24" stroke-width="0.9" d="M736 263.5L751 246L763.5 236M777.2 236L783.5 251L798.5 279.8L793.5 311L786 326L773.5 348.5L768.5 356M813.5 277.2L806 293.5L794.8 311L783.5 331L767.2 356M736 283.5L754.8 282.9L777.2 281.6L813.5 277.9L829.8 268.5L839.8 252.2L851 241L861 239.8M782.2 246L804.8 246.6L821 261L829.8 262.9M736 313.5L761 303.5L786 294.1L804.8 292.2M751 246L754.8 273.5L752.2 283.5L738.5 304.8L751 328.5L759.8 343.5M794.8 311L816 314.1L823.5 312.2L826 306M876 237.2L833.5 286L821 306L816 316L823.5 339.8L811 356M873.5 236L838.5 273.5L823.5 298.5L818.5 306M877.2 241L836 288.5L826 306L823.5 326M803.5 296L816 316M736 333.5L767.2 328.5L783.5 331M817.2 236L838.5 252.2L834.8 272.2L839.8 276M842.2 236L848.5 247.2L858.5 252.2M786 326L806 317.2L816 316M773.5 356L806 331L822.2 323.5"/>
</g></g>
<g><g clip-path="url(#t23)">
<path stroke="#444" stroke-width="2.5" d="M532.2 594.1L543.5 606M491 547.2L503.5 542.2L538.5 541L536 536M509.8 557.2L513.5 561L519.8 569.8L526 579.8L536 586L532.2 593.5M509.8 557.2L524.8 546L538.5 541M578.5 556L598.5 589.8L603.5 592.2M543.5 622.2L536 634.8L526 643.5L523.5 656M438.5 656L447.2 652.2L457.2 646L463.5 647.2L472.2 652.2L473.5 656M429.8 536L431 551L438.5 548.5L441 541L444.8 536M453.5 536L453.5 548.5L483.5 543.5L486 536M444.8 536L447.2 549.8L453.5 548.5M462.2 536L463.5 539.8L483.5 538.5M442.2 558.5L457.2 554.8L463.5 556L467.2 567.2L457.2 574.8L452.2 573.5L459.8 571L453.5 559.8L442.2 561L442.2 558.5M459.8 589.8L464.8 587.9L471 593.5L481 598.5L478.5 603.5L469.8 598.5L462.2 596ZM458.5 588.5L476 583.5L486 586L489.8 592.2M476 584.8L478.5 592.2L486 596M493.5 578.5L503.5 577.2L508.5 583.5L493.5 591L496 583.5L493.5 578.5M453.5 588.5L463.5 576L476 573.5L481 571L486 561L483.5 556M486 561L489.8 563.5L496 569.8L508.5 568.5M463.5 577.2L486 576L497.2 572.2L513.5 573.5M503.5 596L518.5 586L524.8 596L519.8 598.5L516 592.2L511 596L514.8 603.5L508.5 606L506 598.5L503.5 596M478.5 607.2L496 598.5L503.5 609.8M519.8 607.2L528.5 598.5L536 603.5L537.2 613.5L528.5 619.8L522.2 616ZM477.2 626L482.2 614.8L489.8 616L491 627.2L483.5 632.2ZM496 617.2L508.5 616L512.2 623.5L508.5 629.8L497.2 631Z"/>
<path stroke="#16161c" stroke-width="1.5" d="M416 577.2L424.8 563.5L428.5 536M416 558.5L424.8 562.2L434.8 564.8L441 569.8L444.8 584.8L457.2 594.8L476 604.8L487.2 613.5L502.2 615.4L532.2 594.1L578.5 556L608 536M416 577.2L423.5 591L436 611L457.2 627.2L466 634.8L486 639.8L508.5 639.8L528.5 633.5L543.5 622.2L546 624.8M447.2 586L491 547.2L532.2 594.1M482.2 536L491 547.2M476 607.9L517.2 576M476 604.8L471 623.5L466 634.8L463.5 656M543.5 606L543.5 622.2"/>
<path stroke="#1a1a24" stroke-width="0.9" d="M608 583.5L546 623.5L528.5 633.5M608 586L553.5 616L546 624.8L546 656M543.5 586L548.5 594.8L543.5 606M441 598.5L444.8 584.8"/>
</g></g>
</g>
</g></svg>
</body></html>
